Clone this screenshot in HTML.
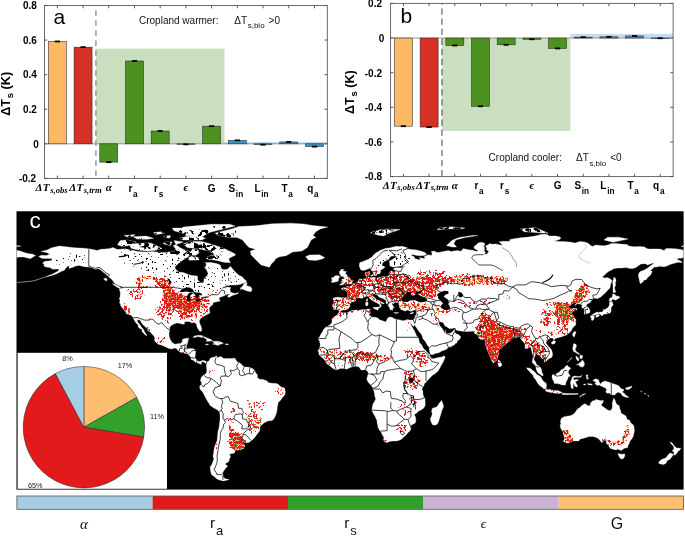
<!DOCTYPE html>
<html><head><meta charset="utf-8"><style>
html,body{margin:0;padding:0;background:#fff;}
svg{display:block;will-change:transform;}
text{font-family:"Liberation Sans",sans-serif;fill:#000;}
.tk{font-size:10px;font-weight:bold;fill:#000;}
.yl{font-size:12.6px;font-weight:bold;fill:#000;}
.ysub{font-size:9.5px;}
.let{font-size:21px;}
.nt{font-size:10px;fill:#111;}
.nts{font-size:8px;}
.xi{font-family:"Liberation Serif",serif;font-style:italic;font-weight:bold;font-size:11px;}
.xis{font-size:8.6px;}
.xl{font-size:10px;font-weight:bold;fill:#000;}
.xls{font-size:8.2px;}
.cl{font-size:22.5px;fill:#fff;}
.pl{font-size:7.3px;fill:#222;}
.cbt{font-size:15.3px;fill:#111;}
.cbs{font-size:13px;}
.cbe{font-family:"Liberation Serif",serif;font-style:italic;font-size:13.5px;fill:#111;}
.cbi{font-family:"Liberation Serif",serif;font-style:italic;font-size:15px;fill:#111;}
</style></head><body>
<svg width="685" height="536" viewBox="0 0 685 536">
<rect x="95.92" y="48.73" width="128.55" height="95.10" fill="#c9dfbf"/>
<rect x="224.46" y="141.92" width="102.84" height="1.90" fill="#c6dbef"/>
<line x1="44.50" x2="327.30" y1="143.82" y2="143.82" stroke="#8a8a8a" stroke-width="0.9"/>
<rect x="48.36" y="41.46" width="18.00" height="102.36" fill="#fdb863" stroke="#1e1e1e" stroke-width="0.6" stroke-opacity="0.85"/>
<rect x="74.07" y="47.17" width="18.00" height="96.65" fill="#d73027" stroke="#1e1e1e" stroke-width="0.6" stroke-opacity="0.85"/>
<rect x="99.77" y="143.82" width="18.00" height="18.33" fill="#4d9221" stroke="#1e1e1e" stroke-width="0.6" stroke-opacity="0.85"/>
<rect x="125.48" y="61.00" width="18.00" height="82.82" fill="#4d9221" stroke="#1e1e1e" stroke-width="0.6" stroke-opacity="0.85"/>
<rect x="151.19" y="131.03" width="18.00" height="12.79" fill="#4d9221" stroke="#1e1e1e" stroke-width="0.6" stroke-opacity="0.85"/>
<rect x="176.90" y="143.82" width="18.00" height="0.60" fill="#4d9221" stroke="#1e1e1e" stroke-width="0.6" stroke-opacity="0.85"/>
<rect x="202.61" y="126.18" width="18.00" height="17.64" fill="#4d9221" stroke="#1e1e1e" stroke-width="0.6" stroke-opacity="0.85"/>
<rect x="228.32" y="140.36" width="18.00" height="3.46" fill="#4393c3" stroke="#1e1e1e" stroke-width="0.6" stroke-opacity="0.85"/>
<rect x="254.03" y="143.82" width="18.00" height="0.86" fill="#4393c3" stroke="#1e1e1e" stroke-width="0.6" stroke-opacity="0.85"/>
<rect x="279.74" y="141.92" width="18.00" height="1.90" fill="#4393c3" stroke="#1e1e1e" stroke-width="0.6" stroke-opacity="0.85"/>
<rect x="305.45" y="143.82" width="18.00" height="2.77" fill="#4393c3" stroke="#1e1e1e" stroke-width="0.6" stroke-opacity="0.85"/>
<line x1="54.75" x2="59.95" y1="41.46" y2="41.46" stroke="#000" stroke-width="1.8"/>
<line x1="80.46" x2="85.66" y1="47.17" y2="47.17" stroke="#000" stroke-width="1.8"/>
<line x1="106.17" x2="111.37" y1="162.15" y2="162.15" stroke="#000" stroke-width="1.8"/>
<line x1="131.88" x2="137.08" y1="61.00" y2="61.00" stroke="#000" stroke-width="1.8"/>
<line x1="157.59" x2="162.79" y1="131.03" y2="131.03" stroke="#000" stroke-width="1.8"/>
<line x1="183.30" x2="188.50" y1="144.34" y2="144.34" stroke="#000" stroke-width="1.8"/>
<line x1="209.01" x2="214.21" y1="126.18" y2="126.18" stroke="#000" stroke-width="1.8"/>
<line x1="234.72" x2="239.92" y1="140.36" y2="140.36" stroke="#000" stroke-width="1.8"/>
<line x1="260.43" x2="265.63" y1="144.68" y2="144.68" stroke="#000" stroke-width="1.8"/>
<line x1="286.14" x2="291.34" y1="141.92" y2="141.92" stroke="#000" stroke-width="1.8"/>
<line x1="311.85" x2="317.05" y1="146.59" y2="146.59" stroke="#000" stroke-width="1.8"/>
<line x1="95.92" x2="95.92" y1="5.50" y2="178.40" stroke="#969696" stroke-width="1.4" stroke-dasharray="5.6,4.4" stroke-dashoffset="5.2"/>
<rect x="44.50" y="5.50" width="282.80" height="172.90" fill="none" stroke="#5a5a5a" stroke-width="0.9"/>
<line x1="57.35" x2="57.35" y1="178.40" y2="175.60" stroke="#4a4a4a" stroke-width="0.9"/>
<line x1="57.35" x2="57.35" y1="5.50" y2="8.30" stroke="#4a4a4a" stroke-width="0.9"/>
<line x1="83.06" x2="83.06" y1="178.40" y2="175.60" stroke="#4a4a4a" stroke-width="0.9"/>
<line x1="83.06" x2="83.06" y1="5.50" y2="8.30" stroke="#4a4a4a" stroke-width="0.9"/>
<line x1="108.77" x2="108.77" y1="178.40" y2="175.60" stroke="#4a4a4a" stroke-width="0.9"/>
<line x1="108.77" x2="108.77" y1="5.50" y2="8.30" stroke="#4a4a4a" stroke-width="0.9"/>
<line x1="134.48" x2="134.48" y1="178.40" y2="175.60" stroke="#4a4a4a" stroke-width="0.9"/>
<line x1="134.48" x2="134.48" y1="5.50" y2="8.30" stroke="#4a4a4a" stroke-width="0.9"/>
<line x1="160.19" x2="160.19" y1="178.40" y2="175.60" stroke="#4a4a4a" stroke-width="0.9"/>
<line x1="160.19" x2="160.19" y1="5.50" y2="8.30" stroke="#4a4a4a" stroke-width="0.9"/>
<line x1="185.90" x2="185.90" y1="178.40" y2="175.60" stroke="#4a4a4a" stroke-width="0.9"/>
<line x1="185.90" x2="185.90" y1="5.50" y2="8.30" stroke="#4a4a4a" stroke-width="0.9"/>
<line x1="211.61" x2="211.61" y1="178.40" y2="175.60" stroke="#4a4a4a" stroke-width="0.9"/>
<line x1="211.61" x2="211.61" y1="5.50" y2="8.30" stroke="#4a4a4a" stroke-width="0.9"/>
<line x1="237.32" x2="237.32" y1="178.40" y2="175.60" stroke="#4a4a4a" stroke-width="0.9"/>
<line x1="237.32" x2="237.32" y1="5.50" y2="8.30" stroke="#4a4a4a" stroke-width="0.9"/>
<line x1="263.03" x2="263.03" y1="178.40" y2="175.60" stroke="#4a4a4a" stroke-width="0.9"/>
<line x1="263.03" x2="263.03" y1="5.50" y2="8.30" stroke="#4a4a4a" stroke-width="0.9"/>
<line x1="288.74" x2="288.74" y1="178.40" y2="175.60" stroke="#4a4a4a" stroke-width="0.9"/>
<line x1="288.74" x2="288.74" y1="5.50" y2="8.30" stroke="#4a4a4a" stroke-width="0.9"/>
<line x1="314.45" x2="314.45" y1="178.40" y2="175.60" stroke="#4a4a4a" stroke-width="0.9"/>
<line x1="314.45" x2="314.45" y1="5.50" y2="8.30" stroke="#4a4a4a" stroke-width="0.9"/>
<line x1="44.50" x2="47.30" y1="5.50" y2="5.50" stroke="#4a4a4a" stroke-width="0.9"/>
<line x1="327.30" x2="324.50" y1="5.50" y2="5.50" stroke="#4a4a4a" stroke-width="0.9"/>
<line x1="44.50" x2="47.30" y1="40.08" y2="40.08" stroke="#4a4a4a" stroke-width="0.9"/>
<line x1="327.30" x2="324.50" y1="40.08" y2="40.08" stroke="#4a4a4a" stroke-width="0.9"/>
<line x1="44.50" x2="47.30" y1="74.66" y2="74.66" stroke="#4a4a4a" stroke-width="0.9"/>
<line x1="327.30" x2="324.50" y1="74.66" y2="74.66" stroke="#4a4a4a" stroke-width="0.9"/>
<line x1="44.50" x2="47.30" y1="109.24" y2="109.24" stroke="#4a4a4a" stroke-width="0.9"/>
<line x1="327.30" x2="324.50" y1="109.24" y2="109.24" stroke="#4a4a4a" stroke-width="0.9"/>
<line x1="44.50" x2="47.30" y1="143.82" y2="143.82" stroke="#4a4a4a" stroke-width="0.9"/>
<line x1="327.30" x2="324.50" y1="143.82" y2="143.82" stroke="#4a4a4a" stroke-width="0.9"/>
<line x1="44.50" x2="47.30" y1="178.40" y2="178.40" stroke="#4a4a4a" stroke-width="0.9"/>
<line x1="327.30" x2="324.50" y1="178.40" y2="178.40" stroke="#4a4a4a" stroke-width="0.9"/>
<text x="36.80" y="9.00" text-anchor="end" class="tk">0.8</text>
<text x="36.80" y="43.60" text-anchor="end" class="tk">0.6</text>
<text x="36.80" y="78.20" text-anchor="end" class="tk">0.4</text>
<text x="36.80" y="113.10" text-anchor="end" class="tk">0.2</text>
<text x="38.90" y="147.60" text-anchor="end" class="tk">0</text>
<text x="36.20" y="182.20" text-anchor="end" class="tk">-0.2</text>
<text transform="translate(10.20,93.80) rotate(-90)" text-anchor="middle" class="yl">&#916;T<tspan class="ysub" dy="3.2" dx="0.8">s</tspan><tspan dy="-3.2" dx="0"> (K)</tspan></text>
<text x="53.4" y="23.8" class="let">a</text>
<text x="35.60" y="190.90" class="xi">&#916;<tspan dx="0.3">T</tspan><tspan class="xis" dy="1.8" dx="0.6">s,obs</tspan></text>
<text x="69.20" y="190.90" class="xi">&#916;<tspan dx="0.3">T</tspan><tspan class="xis" dy="1.8" dx="0.6">s,trm</tspan></text>
<text x="108.77" y="190.90" text-anchor="middle" class="xi">&#945;</text>
<text x="132.98" y="191.80" text-anchor="middle" class="xl">r<tspan class="xls" dy="4.9" dx="0.7">a</tspan></text>
<text x="158.69" y="191.80" text-anchor="middle" class="xl">r<tspan class="xls" dy="4.9" dx="0.7">s</tspan></text>
<text x="185.90" y="190.90" text-anchor="middle" class="xi">&#1013;</text>
<text x="211.61" y="191.80" text-anchor="middle" class="xl">G</text>
<text x="235.82" y="191.80" text-anchor="middle" class="xl">S<tspan class="xls" dy="4.9" dx="0.7">in</tspan></text>
<text x="261.53" y="191.80" text-anchor="middle" class="xl">L<tspan class="xls" dy="4.9" dx="0.7">in</tspan></text>
<text x="287.24" y="191.80" text-anchor="middle" class="xl">T<tspan class="xls" dy="4.9" dx="0.7">a</tspan></text>
<text x="312.95" y="191.80" text-anchor="middle" class="xl">q<tspan class="xls" dy="4.9" dx="0.7">a</tspan></text>
<text x="139" y="24" class="nt">Cropland warmer:</text><text x="234.3" y="24" class="nt">&#916;T<tspan class="nts" dy="4.3" dx="0.6">s,bio</tspan><tspan dy="-4.3" dx="1.2"> &gt;0</tspan></text>
<rect x="441.96" y="38.04" width="128.41" height="92.84" fill="#c9dfbf"/>
<rect x="570.37" y="33.88" width="102.73" height="4.16" fill="#c6dbef"/>
<line x1="390.60" x2="673.10" y1="38.04" y2="38.04" stroke="#8a8a8a" stroke-width="0.9"/>
<rect x="394.45" y="38.04" width="17.98" height="88.16" fill="#fdb863" stroke="#1e1e1e" stroke-width="0.6" stroke-opacity="0.85"/>
<rect x="420.13" y="38.04" width="17.98" height="89.02" fill="#d73027" stroke="#1e1e1e" stroke-width="0.6" stroke-opacity="0.85"/>
<rect x="445.82" y="38.04" width="17.98" height="7.45" fill="#4d9221" stroke="#1e1e1e" stroke-width="0.6" stroke-opacity="0.85"/>
<rect x="471.50" y="38.04" width="17.98" height="68.24" fill="#4d9221" stroke="#1e1e1e" stroke-width="0.6" stroke-opacity="0.85"/>
<rect x="497.18" y="38.04" width="17.98" height="6.75" fill="#4d9221" stroke="#1e1e1e" stroke-width="0.6" stroke-opacity="0.85"/>
<rect x="522.86" y="38.04" width="17.98" height="1.21" fill="#4d9221" stroke="#1e1e1e" stroke-width="0.6" stroke-opacity="0.85"/>
<rect x="548.54" y="38.04" width="17.98" height="10.39" fill="#4d9221" stroke="#1e1e1e" stroke-width="0.6" stroke-opacity="0.85"/>
<rect x="574.23" y="37.17" width="17.98" height="0.87" fill="#4393c3" stroke="#1e1e1e" stroke-width="0.6" stroke-opacity="0.85"/>
<rect x="599.91" y="36.83" width="17.98" height="1.21" fill="#4393c3" stroke="#1e1e1e" stroke-width="0.6" stroke-opacity="0.85"/>
<rect x="625.59" y="35.96" width="17.98" height="2.08" fill="#4393c3" stroke="#1e1e1e" stroke-width="0.6" stroke-opacity="0.85"/>
<rect x="651.27" y="38.04" width="17.98" height="0.60" fill="#4393c3" stroke="#1e1e1e" stroke-width="0.6" stroke-opacity="0.85"/>
<line x1="400.84" x2="406.04" y1="126.20" y2="126.20" stroke="#000" stroke-width="1.8"/>
<line x1="426.52" x2="431.72" y1="127.06" y2="127.06" stroke="#000" stroke-width="1.8"/>
<line x1="452.20" x2="457.40" y1="45.49" y2="45.49" stroke="#000" stroke-width="1.8"/>
<line x1="477.89" x2="483.09" y1="106.28" y2="106.28" stroke="#000" stroke-width="1.8"/>
<line x1="503.57" x2="508.77" y1="44.79" y2="44.79" stroke="#000" stroke-width="1.8"/>
<line x1="529.25" x2="534.45" y1="39.25" y2="39.25" stroke="#000" stroke-width="1.8"/>
<line x1="554.93" x2="560.13" y1="48.43" y2="48.43" stroke="#000" stroke-width="1.8"/>
<line x1="580.61" x2="585.81" y1="37.17" y2="37.17" stroke="#000" stroke-width="1.8"/>
<line x1="606.30" x2="611.50" y1="36.83" y2="36.83" stroke="#000" stroke-width="1.8"/>
<line x1="631.98" x2="637.18" y1="35.96" y2="35.96" stroke="#000" stroke-width="1.8"/>
<line x1="657.66" x2="662.86" y1="38.21" y2="38.21" stroke="#000" stroke-width="1.8"/>
<line x1="441.96" x2="441.96" y1="3.40" y2="176.60" stroke="#444" stroke-width="1.0" stroke-dasharray="6.3,3.8" stroke-dashoffset="5.1"/>
<rect x="390.60" y="3.40" width="282.50" height="173.20" fill="none" stroke="#5a5a5a" stroke-width="0.9"/>
<line x1="403.44" x2="403.44" y1="176.60" y2="173.80" stroke="#4a4a4a" stroke-width="0.9"/>
<line x1="403.44" x2="403.44" y1="3.40" y2="6.20" stroke="#4a4a4a" stroke-width="0.9"/>
<line x1="429.12" x2="429.12" y1="176.60" y2="173.80" stroke="#4a4a4a" stroke-width="0.9"/>
<line x1="429.12" x2="429.12" y1="3.40" y2="6.20" stroke="#4a4a4a" stroke-width="0.9"/>
<line x1="454.80" x2="454.80" y1="176.60" y2="173.80" stroke="#4a4a4a" stroke-width="0.9"/>
<line x1="454.80" x2="454.80" y1="3.40" y2="6.20" stroke="#4a4a4a" stroke-width="0.9"/>
<line x1="480.49" x2="480.49" y1="176.60" y2="173.80" stroke="#4a4a4a" stroke-width="0.9"/>
<line x1="480.49" x2="480.49" y1="3.40" y2="6.20" stroke="#4a4a4a" stroke-width="0.9"/>
<line x1="506.17" x2="506.17" y1="176.60" y2="173.80" stroke="#4a4a4a" stroke-width="0.9"/>
<line x1="506.17" x2="506.17" y1="3.40" y2="6.20" stroke="#4a4a4a" stroke-width="0.9"/>
<line x1="531.85" x2="531.85" y1="176.60" y2="173.80" stroke="#4a4a4a" stroke-width="0.9"/>
<line x1="531.85" x2="531.85" y1="3.40" y2="6.20" stroke="#4a4a4a" stroke-width="0.9"/>
<line x1="557.53" x2="557.53" y1="176.60" y2="173.80" stroke="#4a4a4a" stroke-width="0.9"/>
<line x1="557.53" x2="557.53" y1="3.40" y2="6.20" stroke="#4a4a4a" stroke-width="0.9"/>
<line x1="583.21" x2="583.21" y1="176.60" y2="173.80" stroke="#4a4a4a" stroke-width="0.9"/>
<line x1="583.21" x2="583.21" y1="3.40" y2="6.20" stroke="#4a4a4a" stroke-width="0.9"/>
<line x1="608.90" x2="608.90" y1="176.60" y2="173.80" stroke="#4a4a4a" stroke-width="0.9"/>
<line x1="608.90" x2="608.90" y1="3.40" y2="6.20" stroke="#4a4a4a" stroke-width="0.9"/>
<line x1="634.58" x2="634.58" y1="176.60" y2="173.80" stroke="#4a4a4a" stroke-width="0.9"/>
<line x1="634.58" x2="634.58" y1="3.40" y2="6.20" stroke="#4a4a4a" stroke-width="0.9"/>
<line x1="660.26" x2="660.26" y1="176.60" y2="173.80" stroke="#4a4a4a" stroke-width="0.9"/>
<line x1="660.26" x2="660.26" y1="3.40" y2="6.20" stroke="#4a4a4a" stroke-width="0.9"/>
<line x1="390.60" x2="393.40" y1="3.40" y2="3.40" stroke="#4a4a4a" stroke-width="0.9"/>
<line x1="673.10" x2="670.30" y1="3.40" y2="3.40" stroke="#4a4a4a" stroke-width="0.9"/>
<line x1="390.60" x2="393.40" y1="38.04" y2="38.04" stroke="#4a4a4a" stroke-width="0.9"/>
<line x1="673.10" x2="670.30" y1="38.04" y2="38.04" stroke="#4a4a4a" stroke-width="0.9"/>
<line x1="390.60" x2="393.40" y1="72.68" y2="72.68" stroke="#4a4a4a" stroke-width="0.9"/>
<line x1="673.10" x2="670.30" y1="72.68" y2="72.68" stroke="#4a4a4a" stroke-width="0.9"/>
<line x1="390.60" x2="393.40" y1="107.32" y2="107.32" stroke="#4a4a4a" stroke-width="0.9"/>
<line x1="673.10" x2="670.30" y1="107.32" y2="107.32" stroke="#4a4a4a" stroke-width="0.9"/>
<line x1="390.60" x2="393.40" y1="141.96" y2="141.96" stroke="#4a4a4a" stroke-width="0.9"/>
<line x1="673.10" x2="670.30" y1="141.96" y2="141.96" stroke="#4a4a4a" stroke-width="0.9"/>
<line x1="390.60" x2="393.40" y1="176.60" y2="176.60" stroke="#4a4a4a" stroke-width="0.9"/>
<line x1="673.10" x2="670.30" y1="176.60" y2="176.60" stroke="#4a4a4a" stroke-width="0.9"/>
<text x="382.00" y="7.20" text-anchor="end" class="tk">0.2</text>
<text x="384.20" y="41.80" text-anchor="end" class="tk">0</text>
<text x="382.00" y="76.50" text-anchor="end" class="tk">-0.2</text>
<text x="382.00" y="111.10" text-anchor="end" class="tk">-0.4</text>
<text x="382.00" y="145.80" text-anchor="end" class="tk">-0.6</text>
<text x="382.00" y="180.40" text-anchor="end" class="tk">-0.8</text>
<text transform="translate(353.90,92.20) rotate(-90)" text-anchor="middle" class="yl">&#916;T<tspan class="ysub" dy="3.2" dx="0.8">s</tspan><tspan dy="-3.2" dx="0"> (K)</tspan></text>
<text x="400.6" y="23.2" class="let">b</text>
<text x="382.80" y="188.50" class="xi">&#916;<tspan dx="0.3">T</tspan><tspan class="xis" dy="1.8" dx="0.6">s,obs</tspan></text>
<text x="416.10" y="188.50" class="xi">&#916;<tspan dx="0.3">T</tspan><tspan class="xis" dy="1.8" dx="0.6">s,trm</tspan></text>
<text x="454.80" y="188.50" text-anchor="middle" class="xi">&#945;</text>
<text x="478.99" y="189.40" text-anchor="middle" class="xl">r<tspan class="xls" dy="4.9" dx="0.7">a</tspan></text>
<text x="504.67" y="189.40" text-anchor="middle" class="xl">r<tspan class="xls" dy="4.9" dx="0.7">s</tspan></text>
<text x="531.85" y="188.50" text-anchor="middle" class="xi">&#1013;</text>
<text x="557.53" y="189.40" text-anchor="middle" class="xl">G</text>
<text x="581.71" y="189.40" text-anchor="middle" class="xl">S<tspan class="xls" dy="4.9" dx="0.7">in</tspan></text>
<text x="607.40" y="189.40" text-anchor="middle" class="xl">L<tspan class="xls" dy="4.9" dx="0.7">in</tspan></text>
<text x="633.08" y="189.40" text-anchor="middle" class="xl">T<tspan class="xls" dy="4.9" dx="0.7">a</tspan></text>
<text x="658.76" y="189.40" text-anchor="middle" class="xl">q<tspan class="xls" dy="4.9" dx="0.7">a</tspan></text>
<text x="488.6" y="161.3" class="nt">Cropland cooler:</text><text x="576.0" y="161.3" class="nt">&#916;T<tspan class="nts" dy="4.3" dx="0.6">s,bio</tspan><tspan dy="-4.3" dx="1.2"> &lt;0</tspan></text>
<rect x="16.5" y="211.3" width="667.10" height="278.30" fill="#000"/>
<clipPath id="mc"><rect x="16.50" y="211.30" width="667.10" height="278.30"/></clipPath>
<filter id="spk" x="0" y="0" width="685" height="536" filterUnits="userSpaceOnUse" color-interpolation-filters="sRGB"><feTurbulence type="fractalNoise" baseFrequency="0.45" numOctaves="3" seed="4" result="t"/><feColorMatrix in="t" type="matrix" values="0 0 0 0 0  0 0 0 0 0  0 0 0 0 0  1 0 0 0 0" result="na"/><feGaussianBlur in="SourceAlpha" stdDeviation="1.6" result="sb"/><feComposite in="sb" in2="na" operator="arithmetic" k1="0" k2="9.360" k3="12.000" k4="-12.480" result="m"/><feFlood flood-color="#e31a1c"/><feComposite in2="m" operator="in"/><feGaussianBlur stdDeviation="0.45"/></filter>
<filter id="spo" x="0" y="0" width="685" height="536" filterUnits="userSpaceOnUse" color-interpolation-filters="sRGB"><feTurbulence type="fractalNoise" baseFrequency="0.5" numOctaves="3" seed="11" result="t"/><feColorMatrix in="t" type="matrix" values="0 0 0 0 0  0 0 0 0 0  0 0 0 0 0  1 0 0 0 0" result="na"/><feGaussianBlur in="SourceAlpha" stdDeviation="1.6" result="sb"/><feComposite in="sb" in2="na" operator="arithmetic" k1="0" k2="9.360" k3="12.000" k4="-12.480" result="m"/><feFlood flood-color="#f2b35c"/><feComposite in2="m" operator="in"/><feGaussianBlur stdDeviation="0.45"/></filter>
<filter id="spl" x="0" y="0" width="685" height="536" filterUnits="userSpaceOnUse" color-interpolation-filters="sRGB"><feTurbulence type="fractalNoise" baseFrequency="0.5" numOctaves="3" seed="31" result="t"/><feColorMatrix in="t" type="matrix" values="0 0 0 0 0  0 0 0 0 0  0 0 0 0 0  1 0 0 0 0" result="na"/><feGaussianBlur in="SourceAlpha" stdDeviation="1.6" result="sb"/><feComposite in="sb" in2="na" operator="arithmetic" k1="0" k2="9.360" k3="12.000" k4="-12.480" result="m"/><feFlood flood-color="#000"/><feComposite in2="m" operator="in"/><feGaussianBlur stdDeviation="0.45"/></filter>
<filter id="spa" x="0" y="0" width="685" height="536" filterUnits="userSpaceOnUse" color-interpolation-filters="sRGB"><feTurbulence type="fractalNoise" baseFrequency="0.18" numOctaves="3" seed="37" result="t"/><feColorMatrix in="t" type="matrix" values="0 0 0 0 0  0 0 0 0 0  0 0 0 0 0  1 0 0 0 0" result="na"/><feGaussianBlur in="SourceAlpha" stdDeviation="1.6" result="sb"/><feComposite in="sb" in2="na" operator="arithmetic" k1="0" k2="9.360" k3="12.000" k4="-12.480" result="m"/><feFlood flood-color="#000"/><feComposite in2="m" operator="in"/><feGaussianBlur stdDeviation="0.45"/></filter>
<filter id="spg" x="0" y="0" width="685" height="536" filterUnits="userSpaceOnUse" color-interpolation-filters="sRGB"><feTurbulence type="fractalNoise" baseFrequency="0.5" numOctaves="3" seed="23" result="t"/><feColorMatrix in="t" type="matrix" values="0 0 0 0 0  0 0 0 0 0  0 0 0 0 0  1 0 0 0 0" result="na"/><feGaussianBlur in="SourceAlpha" stdDeviation="1.6" result="sb"/><feComposite in="sb" in2="na" operator="arithmetic" k1="0" k2="9.360" k3="12.000" k4="-12.480" result="m"/><feFlood flood-color="#4f9a2e"/><feComposite in2="m" operator="in"/><feGaussianBlur stdDeviation="0.45"/></filter>
<g clip-path="url(#mc)">
<g fill="#fff" stroke="#fff" stroke-width="0.3">
<polygon points="38.6,256.5 41.5,255.2 46.5,255.6 49.9,254.1 46.5,252.6 41.0,251.5 47.1,250.0 51.7,247.8 59.5,246.0 67.8,246.9 74.9,247.8 84.1,248.2 90.6,249.1 97.1,250.4 100.8,249.3 105.4,248.9 110.1,248.4 112.9,247.4 117.5,249.5 124.9,248.7 132.3,250.2 137.9,251.5 146.2,252.1 152.7,251.5 161.0,252.4 167.5,252.4 170.3,251.1 173.1,252.1 175.9,249.3 173.1,245.6 176.2,244.7 180.5,248.0 187.0,250.6 190.7,252.1 192.5,249.1 198.1,249.8 199.0,253.0 195.3,255.4 189.8,254.8 187.9,257.1 182.3,260.4 177.7,264.1 174.9,266.9 175.5,269.1 178.6,272.1 183.3,272.5 188.8,274.7 192.5,275.6 197.5,276.0 197.7,279.9 200.9,283.0 203.7,282.6 204.0,278.9 207.4,275.2 208.1,273.4 206.4,269.7 204.6,267.3 206.4,265.0 205.5,262.4 211.1,262.6 216.6,263.6 220.3,265.0 221.3,268.4 224.0,269.7 227.7,269.1 230.5,266.3 233.3,269.7 236.1,272.8 238.9,275.2 242.6,277.1 243.9,278.9 246.8,281.3 244.4,282.8 239.8,284.5 235.2,285.1 230.5,285.1 226.8,285.8 223.1,287.3 220.7,288.8 224.0,288.0 227.7,287.1 230.9,287.6 230.0,289.5 230.5,292.3 235.2,293.4 238.5,292.5 237.9,293.8 232.4,295.4 228.7,297.5 227.4,296.0 230.5,294.1 227.7,294.3 225.9,295.1 223.1,296.2 220.0,297.3 218.9,299.1 220.3,300.6 219.4,301.2 216.6,301.7 212.9,302.8 212.9,304.5 211.1,306.0 210.1,306.7 209.2,308.6 209.4,310.4 210.1,312.7 208.3,314.0 205.9,315.1 203.7,316.4 200.9,318.2 199.4,320.3 199.4,322.5 200.7,325.6 201.8,328.6 201.2,331.2 200.0,331.4 198.7,329.9 197.7,328.2 196.8,326.2 196.6,324.3 194.9,322.7 193.5,322.5 191.8,323.0 189.8,321.7 187.0,321.4 184.2,322.1 184.6,324.0 182.9,324.2 180.5,323.4 176.8,323.0 174.4,323.8 171.2,325.6 169.7,327.5 169.7,330.1 169.0,333.2 169.2,336.4 169.9,338.8 171.6,341.9 173.6,343.4 175.1,344.3 178.6,343.6 180.9,343.6 182.3,341.4 182.5,339.2 186.1,338.2 188.8,338.2 188.1,340.6 187.4,344.0 186.4,345.6 186.4,348.4 187.9,348.8 190.7,348.6 193.5,348.8 195.7,350.3 195.3,354.9 194.9,357.7 196.2,359.5 198.5,361.4 200.9,361.2 202.7,360.3 205.5,361.0 206.8,362.1 206.4,364.2 204.6,362.5 202.5,361.6 201.1,362.9 201.6,364.4 199.6,363.8 198.1,362.9 195.3,362.3 193.5,360.3 191.2,359.7 191.1,357.7 189.2,355.3 187.5,354.0 186.1,353.6 183.6,353.1 180.7,352.3 178.6,351.0 176.2,348.6 174.6,348.1 171.8,349.0 168.8,348.4 165.7,346.9 162.0,345.3 158.3,344.2 155.7,342.3 154.4,340.3 154.9,338.2 154.0,336.2 152.0,334.0 149.9,331.7 147.7,330.5 147.1,328.6 145.1,326.6 142.9,324.7 141.0,322.1 140.3,320.3 137.3,319.5 137.5,322.1 139.7,324.3 141.2,326.7 143.2,329.0 144.7,332.1 146.2,334.3 147.1,335.3 145.8,335.6 143.4,333.0 142.1,331.7 142.0,329.3 139.7,328.4 137.9,326.6 138.4,325.1 136.0,323.0 134.0,319.7 133.1,317.9 132.5,316.6 130.5,315.1 128.4,314.3 126.6,314.0 125.8,312.1 124.2,310.3 123.1,308.6 122.1,307.7 120.8,306.0 120.5,304.0 119.5,303.0 120.1,300.6 119.3,298.8 120.1,296.5 120.3,292.5 119.9,291.0 119.0,288.4 122.1,288.8 122.7,287.3 121.2,286.3 118.8,285.4 114.7,283.6 113.2,281.3 111.9,279.5 109.2,277.5 108.2,276.2 105.8,274.3 103.6,272.5 100.8,270.0 98.4,268.4 95.3,269.3 91.0,267.4 87.8,266.9 84.1,266.7 79.5,265.4 75.8,266.0 73.0,267.3 68.9,268.4 69.3,265.6 72.1,264.7 67.5,266.3 65.6,268.4 64.3,270.2 61.0,271.5 57.3,273.4 52.6,275.2 48.9,276.3 45.2,277.1 48.0,275.8 51.7,274.5 55.4,272.6 58.2,271.0 59.1,269.1 56.3,269.1 52.6,269.3 49.9,267.6 45.8,267.1 43.7,265.8 44.3,264.1 42.4,263.2 44.7,261.3 48.0,261.1 51.7,260.4 52.1,258.6 48.0,258.4 44.3,258.6 41.5,258.2"/>
<polygon points="409.9,320.1 413.4,320.1 414.7,317.9 415.1,316.6 415.8,315.1 416.6,313.2 416.4,311.4 417.1,310.3 415.8,310.3 414.2,309.9 412.1,311.0 410.3,311.2 407.5,309.9 406.6,310.6 404.7,311.0 402.5,309.9 400.8,309.5 400.5,308.0 399.0,307.1 399.7,306.0 399.3,304.9 398.6,304.0 399.3,303.2 398.6,302.8 398.2,302.5 396.4,302.2 394.5,302.5 394.0,303.6 392.7,303.2 391.9,303.2 392.5,305.2 393.6,306.7 394.5,307.5 392.7,307.8 393.0,309.0 392.3,310.4 391.6,309.7 391.0,310.1 390.3,309.9 389.9,308.4 389.1,307.1 388.4,305.8 387.5,304.7 386.0,303.2 386.0,302.1 386.2,300.6 384.7,299.7 383.0,298.6 380.6,297.7 379.5,297.3 378.2,296.2 377.1,294.5 375.8,295.1 375.4,293.4 373.0,293.8 372.8,295.1 372.8,296.2 374.1,297.1 375.8,298.8 377.1,300.1 379.3,300.4 380.1,300.8 381.6,301.9 383.4,302.8 384.3,303.8 383.4,304.1 381.9,303.2 380.8,304.0 380.8,304.7 381.7,305.8 380.8,306.7 379.9,307.7 379.1,307.8 379.0,307.3 379.5,306.5 380.1,305.8 379.1,304.1 377.8,303.6 376.9,302.8 376.0,302.5 374.1,301.5 372.7,300.6 370.8,299.5 369.5,298.4 369.0,296.7 367.1,296.0 365.4,296.7 363.9,296.9 362.5,298.2 360.8,298.2 358.9,297.7 357.5,297.5 355.8,298.2 355.8,299.5 356.0,300.4 354.1,301.5 351.7,302.1 350.4,303.6 349.5,304.9 350.4,306.2 349.1,307.1 348.6,308.4 346.9,309.5 346.0,310.1 342.6,310.1 341.3,310.4 340.2,311.2 339.7,311.4 338.6,310.6 338.0,309.7 336.3,309.1 335.2,309.5 333.6,309.5 333.7,307.7 332.4,306.4 332.6,305.1 333.6,303.6 333.9,301.7 333.6,300.2 332.8,298.6 334.9,297.5 337.1,297.3 339.3,297.3 341.7,297.7 344.5,297.7 346.7,297.7 347.5,296.5 347.8,294.7 347.8,292.5 346.0,291.0 344.9,290.1 341.9,289.5 341.3,288.4 343.6,287.6 346.3,288.0 347.1,287.8 346.5,286.0 347.6,286.2 349.7,286.7 350.6,286.0 352.8,285.1 353.0,283.8 354.7,283.4 356.5,282.8 357.5,281.9 358.4,281.0 358.8,280.0 359.3,279.3 361.2,279.1 363.0,278.9 364.9,278.8 366.2,278.2 366.4,277.1 366.0,276.2 365.1,275.0 365.1,273.4 365.4,272.5 367.7,272.3 369.5,271.3 369.7,272.5 369.1,273.7 370.2,273.6 369.7,274.5 368.6,275.2 368.0,276.2 368.6,276.9 370.2,277.3 371.4,277.8 373.2,277.3 375.4,277.6 376.5,278.2 378.8,277.6 381.2,276.9 384.3,276.5 385.8,277.3 386.9,276.3 389.1,275.8 389.1,274.3 389.0,272.8 390.3,271.3 391.9,271.0 393.2,272.3 395.1,272.1 395.1,270.0 393.6,269.5 393.6,268.4 396.0,267.8 399.2,267.8 401.9,267.8 404.7,267.1 406.2,267.0 403.8,266.5 401.6,266.0 399.2,266.2 394.5,266.9 392.5,267.1 389.7,265.8 389.9,264.1 389.5,262.3 389.3,261.0 391.6,259.9 393.6,258.6 395.4,257.8 397.1,257.3 396.7,256.5 395.1,256.1 392.7,256.1 390.8,256.7 389.5,257.8 389.3,258.9 387.5,259.9 385.3,261.0 383.4,262.1 382.3,263.6 381.9,265.0 382.1,265.8 384.1,266.3 385.1,267.3 383.8,268.0 383.0,268.9 381.2,269.5 380.6,270.8 380.6,272.5 379.5,273.9 377.3,273.9 376.4,275.4 374.0,275.4 373.8,274.5 373.2,273.7 373.4,272.6 372.1,271.7 371.5,270.2 370.8,268.9 369.7,268.2 369.3,267.1 369.0,268.7 367.7,268.9 365.6,270.0 363.0,270.6 361.2,270.0 360.2,269.1 360.2,268.2 359.3,266.5 359.3,265.0 359.5,263.6 359.9,262.6 361.5,262.1 363.0,261.5 364.9,260.8 366.4,260.0 368.2,259.5 369.5,258.4 371.4,257.6 372.7,256.1 373.8,254.8 375.3,253.4 376.9,252.3 378.8,251.5 379.7,250.6 381.9,249.8 383.8,248.9 386.2,248.2 389.0,248.0 391.7,247.4 394.0,246.7 396.4,246.3 399.2,246.5 401.9,246.3 404.7,246.9 407.5,247.8 405.6,248.7 408.4,248.9 411.2,249.5 414.9,249.8 418.6,250.4 421.4,251.3 424.2,252.3 426.0,253.2 426.4,254.5 424.2,255.4 421.4,255.8 416.8,255.4 414.0,254.8 412.1,254.5 410.8,254.8 412.7,256.0 414.5,257.1 414.5,258.6 417.7,259.3 419.5,259.9 420.5,258.7 419.0,257.6 421.4,258.0 424.2,258.6 425.1,257.8 424.0,256.7 426.0,255.8 428.2,254.8 431.6,255.4 432.0,253.5 431.2,251.5 434.4,251.1 436.2,252.3 439.0,252.6 440.8,252.1 444.6,251.3 448.3,250.6 451.0,251.5 453.8,251.0 457.5,250.4 460.3,251.3 462.2,250.2 462.7,248.7 464.9,248.9 468.6,249.7 472.4,250.2 475.1,251.1 477.0,251.5 477.9,250.4 475.5,249.3 474.2,248.2 474.0,246.5 476.1,245.0 477.5,243.5 478.8,242.8 481.6,242.2 484.6,243.2 485.0,244.7 483.5,246.1 484.6,247.2 484.4,249.3 484.2,251.1 485.7,252.8 483.8,254.3 486.2,254.3 488.1,252.8 488.7,251.0 486.4,249.8 486.8,248.0 485.5,246.1 488.1,244.7 489.6,243.5 491.8,244.3 495.5,243.9 499.2,244.7 502.9,245.4 499.2,241.7 502.9,241.3 510.3,241.3 509.4,239.8 514.0,238.7 520.5,237.8 527.9,237.1 533.5,236.3 537.2,235.4 541.8,234.3 545.5,234.3 547.4,234.8 549.3,236.1 555.7,235.9 560.4,237.1 560.4,239.1 556.7,240.4 553.9,240.9 558.5,241.5 563.2,241.5 569.6,241.9 575.2,243.0 579.8,241.5 584.5,241.9 588.2,243.2 590.0,245.0 592.4,246.5 595.6,245.0 600.2,245.4 604.8,245.8 608.6,244.7 611.3,243.4 616.0,243.4 620.6,244.1 627.1,244.5 628.9,246.0 633.6,246.7 640.1,246.5 644.7,246.9 646.5,248.4 649.3,249.1 654.0,248.9 660.4,249.1 664.1,250.6 666.0,248.4 669.7,248.5 675.3,248.7 680.8,249.5 683.6,250.2 683.6,257.6 680.8,258.2 678.0,258.2 677.1,259.5 680.8,261.0 682.3,262.6 678.0,262.3 673.4,263.6 670.6,264.3 666.9,266.0 664.1,266.7 659.5,266.3 656.7,267.1 654.0,267.1 652.7,268.7 650.2,270.4 652.1,271.3 651.2,273.9 649.9,275.8 647.5,277.5 646.5,279.5 643.8,280.2 643.2,281.7 640.4,283.8 639.7,282.1 639.1,278.9 638.4,275.8 638.9,273.0 640.8,271.2 643.2,270.6 646.2,268.9 649.3,266.7 653.0,264.1 654.0,262.4 651.2,263.7 647.5,265.0 645.6,263.7 641.0,263.9 638.2,265.8 636.0,267.6 632.6,268.6 629.9,268.6 626.2,267.6 621.5,268.0 617.8,268.0 614.1,268.6 611.0,270.2 608.6,271.5 606.3,273.2 603.9,275.8 602.1,276.9 604.8,278.0 607.6,277.6 610.8,279.3 612.1,280.8 611.3,282.6 610.4,285.2 610.0,288.0 607.6,290.2 605.8,292.5 603.2,294.7 600.8,296.9 597.1,298.8 594.8,298.0 593.2,298.9 592.1,299.5 590.6,301.7 590.2,302.5 588.7,303.2 586.9,304.3 586.1,305.2 587.8,306.5 588.9,308.2 589.8,309.9 590.0,311.9 589.5,312.8 588.2,313.2 586.5,313.8 584.5,314.3 584.1,312.8 584.6,311.0 583.9,309.7 584.8,308.4 583.5,308.0 582.1,308.2 581.7,306.7 582.4,305.1 581.1,304.5 579.8,304.1 577.6,303.6 575.6,305.1 574.8,305.8 575.6,304.1 576.5,303.2 575.8,302.3 574.3,302.3 573.2,303.2 571.5,304.1 570.4,305.6 568.9,305.4 568.2,306.2 568.3,307.3 569.6,307.7 570.6,309.1 572.4,308.8 573.9,308.0 575.2,308.6 577.0,308.8 577.0,309.7 575.2,310.1 573.7,311.0 572.4,312.1 570.9,313.4 572.8,314.5 573.7,316.6 574.3,318.0 575.9,319.3 575.8,320.8 575.0,321.4 576.1,322.5 575.6,323.8 575.9,324.9 574.6,325.8 573.5,327.1 572.2,328.6 571.7,330.1 570.6,331.4 569.6,332.5 568.3,333.6 566.5,334.9 564.1,335.8 561.7,336.8 560.4,336.9 558.9,337.5 557.0,338.0 555.0,338.6 554.4,339.9 553.9,340.5 553.3,339.2 553.5,338.2 551.3,337.9 549.3,338.4 547.8,339.7 546.5,341.4 545.9,343.1 547.2,344.7 548.3,346.2 549.8,347.9 551.5,349.7 552.2,352.1 552.6,354.7 552.0,357.0 550.6,357.9 548.7,358.8 547.6,359.9 545.4,362.0 544.3,362.1 544.3,360.3 544.6,359.2 543.5,358.6 541.8,358.4 540.5,356.4 539.6,355.3 538.1,354.5 537.0,354.7 537.0,353.4 535.5,353.2 535.4,354.9 534.1,358.1 533.9,359.9 535.0,361.0 535.9,362.7 536.7,365.1 537.8,365.3 539.4,366.6 540.7,367.9 541.7,369.7 541.7,372.0 542.6,373.4 543.3,375.5 541.8,375.7 540.5,374.6 537.8,372.7 536.7,370.8 536.1,368.8 535.9,367.0 535.4,365.8 534.2,364.5 533.1,363.3 532.2,362.7 532.4,361.0 532.8,358.6 533.1,356.8 532.8,354.9 532.2,353.1 531.6,350.6 531.1,348.4 530.4,346.8 528.9,347.3 526.8,348.8 525.3,348.4 524.8,346.9 525.3,345.1 524.6,343.2 523.3,341.9 522.2,340.5 521.1,339.5 520.5,338.0 520.2,336.8 518.7,336.0 517.8,337.1 516.1,337.5 514.6,338.0 513.5,337.9 511.3,338.2 510.9,339.9 509.4,341.4 507.6,342.3 505.7,344.2 503.9,345.5 502.6,347.1 501.1,348.4 499.8,349.0 498.7,350.3 498.9,353.1 498.1,355.8 497.9,358.6 496.8,359.2 496.3,361.0 495.0,361.6 493.7,363.1 492.0,361.6 491.3,359.5 490.3,357.0 489.4,355.3 488.5,353.1 487.7,350.8 486.8,348.8 485.9,346.0 485.1,343.4 485.0,341.2 484.8,339.2 484.6,337.7 484.0,339.0 482.0,339.5 480.3,339.2 478.3,337.3 478.8,336.4 480.5,335.6 478.5,335.8 477.0,334.7 475.1,333.8 473.8,332.1 473.3,331.0 469.6,331.4 465.9,331.6 464.0,331.4 460.5,331.0 457.5,330.6 456.2,330.1 455.3,328.0 454.2,327.9 452.0,328.6 450.1,328.8 448.3,328.0 446.4,326.6 445.1,326.2 444.2,324.5 443.1,322.5 441.8,322.3 440.5,321.7 439.0,322.5 438.8,323.8 439.9,325.6 440.8,326.9 442.1,328.2 442.9,329.5 443.6,331.0 444.2,332.1 445.1,333.0 445.7,331.7 445.5,330.1 444.9,329.7 446.4,333.4 449.2,333.4 451.0,333.0 452.9,331.2 454.0,329.9 454.6,329.2 454.6,330.8 454.6,331.9 456.0,333.8 457.9,334.3 459.0,334.9 460.1,336.2 460.9,336.6 460.1,338.4 459.0,340.1 458.1,340.3 457.2,341.4 457.0,342.9 455.3,343.4 454.4,344.9 452.5,345.5 452.0,346.6 450.1,346.8 448.4,347.3 446.8,349.0 444.9,349.9 441.8,351.0 440.3,352.1 438.1,353.1 436.2,353.2 434.5,353.8 433.4,354.4 432.0,354.7 430.7,354.5 430.1,353.4 429.7,351.9 429.2,349.4 429.4,347.7 428.6,346.6 427.3,344.9 426.4,343.2 425.3,341.4 423.6,339.5 422.5,337.9 422.3,336.2 421.4,334.3 420.3,333.0 419.2,331.7 418.2,330.3 417.1,328.8 416.0,327.1 415.1,326.0 414.5,325.1 414.7,323.4 413.6,326.6 412.3,325.6 411.2,324.0 410.5,322.7"/>
<polygon points="409.9,320.1 407.5,319.5 405.6,320.1 403.8,320.8 401.9,320.4 400.1,319.9 396.7,319.5 394.5,318.8 392.9,317.7 390.8,317.1 389.0,317.3 387.3,318.4 386.7,320.3 385.3,321.9 383.4,321.0 381.6,320.4 379.1,319.5 378.2,318.2 375.6,317.3 373.2,317.3 371.4,316.7 370.4,315.8 369.3,315.6 368.8,314.5 370.2,313.2 370.4,311.9 369.5,310.6 370.4,309.5 369.0,309.1 367.7,309.0 365.8,309.7 363.4,309.5 361.5,309.7 359.3,310.1 356.5,309.9 353.8,310.3 351.9,310.6 350.1,311.6 348.2,312.1 346.3,313.0 344.5,312.7 341.9,312.8 340.2,311.6 339.1,311.7 338.6,312.7 337.4,314.7 336.0,315.8 334.3,316.6 332.8,317.9 331.9,319.7 332.1,321.6 331.5,323.2 329.7,324.9 327.8,326.0 326.0,326.7 324.5,328.6 323.2,329.9 322.6,331.7 321.3,333.6 320.4,334.9 319.8,336.4 318.7,337.7 318.4,339.3 319.5,341.0 319.8,342.5 320.2,344.3 320.0,346.6 319.5,348.1 318.9,349.4 317.8,350.6 318.7,351.8 318.9,353.4 318.9,355.1 320.2,356.0 321.5,356.8 322.6,358.1 324.1,359.5 325.4,360.8 326.0,362.5 327.1,364.0 328.7,365.1 330.6,366.4 332.4,367.9 334.3,369.2 336.2,369.9 338.0,369.6 339.9,368.6 342.6,368.4 344.5,368.6 346.3,369.2 348.2,368.4 350.1,367.5 351.9,367.0 353.8,366.4 355.6,366.2 357.5,366.4 359.3,367.3 360.2,368.8 361.2,370.1 363.0,369.9 364.9,369.7 365.8,369.6 366.7,370.7 367.8,371.6 368.2,373.4 367.8,375.3 367.3,377.1 366.7,379.0 367.3,380.5 368.6,382.7 370.4,384.6 371.9,386.4 372.7,387.3 372.8,389.2 374.0,391.0 374.5,393.8 374.7,395.7 375.3,397.5 375.6,399.4 374.1,402.2 373.2,403.6 372.3,406.8 371.9,409.6 372.3,411.4 373.8,414.2 375.1,416.4 376.0,418.5 376.9,420.3 377.1,422.5 377.7,425.3 378.2,428.1 379.7,430.5 381.2,432.2 382.1,434.6 383.4,436.4 384.0,438.3 383.4,439.2 384.1,441.3 384.9,441.8 386.2,442.4 387.1,442.6 389.0,441.8 390.8,441.3 393.6,440.9 396.4,441.1 397.7,440.7 399.2,440.3 401.0,439.4 402.5,438.3 404.2,436.6 405.6,435.5 406.9,434.0 408.1,432.6 409.3,431.4 410.3,430.3 411.0,427.9 410.8,426.3 411.2,425.1 413.1,424.2 414.9,423.3 415.8,421.8 415.8,418.8 415.5,417.0 414.4,415.1 415.3,413.7 416.8,412.9 418.6,411.1 421.4,409.8 423.2,408.5 424.5,406.8 425.3,404.9 425.1,401.2 424.9,398.1 423.6,396.6 422.9,393.8 422.9,391.0 421.9,389.6 422.7,387.3 423.6,386.2 424.5,383.6 425.7,382.5 427.1,381.0 428.8,379.0 430.7,377.1 432.5,375.3 435.3,373.6 438.1,371.0 439.9,367.9 441.4,365.1 443.1,362.3 444.2,359.5 445.1,357.7 444.9,356.2 443.6,356.0 441.8,357.1 439.9,357.3 438.1,357.5 436.2,358.1 434.4,358.4 432.7,358.8 431.6,358.4 430.3,356.8 429.4,355.8 430.1,354.9 429.2,354.2 427.9,352.9 426.6,351.6 425.5,350.3 424.2,349.2 423.2,347.9 422.3,346.2 421.6,344.7 420.3,343.4 419.2,341.9 419.0,339.5 418.4,338.2 417.9,337.1 416.4,335.6 416.0,334.3 415.3,332.7 414.4,330.8 413.4,329.3 412.7,328.0 411.8,326.6 410.6,324.7 410.5,322.7"/>
<polygon points="206.8,362.1 209.2,360.7 210.1,358.4 212.0,357.5 214.8,357.1 216.3,355.8 217.6,357.7 220.0,356.6 221.3,356.8 223.7,358.4 227.4,358.4 231.1,358.4 235.2,358.2 235.5,359.5 237.4,362.1 239.8,362.7 242.6,365.5 244.4,367.0 247.2,367.1 250.0,367.5 252.8,368.8 254.6,370.3 255.5,372.5 257.4,374.7 257.4,377.7 260.2,379.4 262.0,379.2 266.7,380.7 268.5,382.7 272.2,383.3 276.9,383.6 279.6,385.5 281.5,387.2 284.6,387.9 285.4,392.0 284.8,394.8 282.4,397.5 280.6,400.3 278.2,402.5 277.4,406.8 276.9,411.1 275.9,414.8 274.1,418.5 272.2,420.5 267.6,421.1 263.9,422.9 260.2,426.3 259.6,430.9 257.4,433.7 255.5,436.4 252.8,439.6 250.9,441.1 248.3,442.7 245.4,442.6 241.8,441.4 243.9,444.4 245.0,445.7 243.5,448.5 240.7,449.8 235.2,450.2 234.6,453.1 229.6,454.1 230.5,456.8 229.6,458.7 228.7,461.5 225.0,463.9 227.7,466.1 225.0,468.9 223.5,471.3 222.2,473.7 223.3,475.0 222.9,476.3 225.0,478.7 229.2,479.6 225.9,480.4 223.1,480.9 219.4,480.0 216.6,478.7 213.9,476.3 211.4,474.4 210.5,470.7 210.1,467.0 212.0,464.2 212.9,461.5 213.9,458.7 212.9,455.9 213.5,454.1 213.9,450.3 214.4,447.6 215.7,443.9 217.2,440.2 217.6,435.5 217.9,431.8 218.9,428.1 219.4,424.4 220.0,419.8 220.0,415.1 219.6,412.0 217.6,410.1 213.9,408.1 210.1,405.5 208.7,403.1 207.0,400.3 204.6,395.7 202.7,392.0 200.0,389.2 199.6,386.4 201.2,384.4 201.8,382.3 200.3,380.9 201.2,377.5 202.2,376.2 203.8,375.1 206.4,373.3 206.8,371.0 206.6,367.9 206.4,365.5"/>
<polygon points="16.5,250.2 20.2,251.0 25.8,253.0 30.4,253.9 32.3,254.1 35.6,255.6 33.2,256.9 30.4,258.7 27.6,258.0 23.9,257.1 19.3,256.9 16.5,257.6"/>
<polygon points="230.5,262.8 224.0,262.3 216.6,260.4 206.4,258.9 207.4,256.7 214.8,254.3 209.2,251.1 198.1,248.7 187.0,247.4 183.3,243.7 190.7,241.3 201.8,241.5 209.2,243.4 218.5,246.5 225.9,249.3 235.2,253.9 235.3,255.2 230.5,257.6 228.7,258.7 229.6,261.3"/>
<polygon points="129.5,245.6 133.2,243.4 140.7,243.2 149.9,242.8 155.5,245.0 162.0,248.4 155.5,250.4 146.2,251.1 136.9,249.8 131.4,248.4"/>
<polygon points="117.5,244.8 120.3,240.4 127.7,240.0 136.0,241.9 129.5,245.6 122.1,246.5"/>
<polygon points="201.8,236.9 209.2,232.6 220.3,229.8 235.2,226.1 229.6,224.3 211.1,224.3 183.3,227.1 179.6,229.8 187.0,232.6 185.1,235.4 196.2,236.3"/>
<polygon points="201.8,240.0 183.3,240.0 179.6,238.2 187.0,236.3 200.0,235.9 205.5,238.2"/>
<polygon points="183.3,233.5 174.0,230.8 172.2,228.0 181.4,228.0 187.0,230.8"/>
<polygon points="136.9,239.1 133.2,236.7 146.2,236.1 153.6,238.2 146.2,239.5"/>
<polygon points="162.9,243.7 170.3,245.6 172.2,241.9 164.7,241.9"/>
<polygon points="175.9,244.7 183.3,241.9 174.0,240.6"/>
<polygon points="168.5,238.2 162.9,236.3 170.3,235.4 170.3,237.2"/>
<polygon points="127.7,237.2 124.0,235.4 135.1,234.6 133.2,236.3"/>
<polygon points="155.5,234.5 164.7,233.5 161.0,231.7 153.6,232.6"/>
<polygon points="188.8,260.2 199.0,259.9 198.1,257.6 192.5,255.8 188.8,257.6"/>
<polygon points="269.4,267.3 261.1,265.0 256.5,260.4 253.7,257.6 250.9,254.8 250.4,251.1 255.5,249.3 249.1,247.4 246.3,244.7 242.6,240.0 237.0,237.6 227.7,237.2 218.5,235.4 214.8,233.2 220.3,231.7 231.5,228.9 238.9,226.5 257.4,225.6 272.2,223.7 290.8,223.2 303.7,223.9 313.0,225.6 327.8,227.1 320.4,228.9 315.8,231.7 313.0,235.4 315.8,237.2 311.1,240.0 309.3,243.7 307.4,247.4 301.9,251.1 292.6,252.1 286.1,255.8 279.6,256.7 275.9,258.6 274.1,261.3 271.3,264.1"/>
<polygon points="305.6,256.7 309.3,255.0 319.5,254.8 323.2,256.7 324.8,257.6 322.3,258.9 315.8,260.6 308.4,259.9"/>
<polygon points="370.4,232.6 379.7,229.8 387.1,228.9 400.1,229.5 390.8,232.6 383.4,236.1 376.0,234.8"/>
<polygon points="446.4,245.6 452.0,247.1 456.6,247.1 453.8,243.7 455.7,240.0 464.9,237.6 477.9,235.6 472.4,235.4 459.4,237.4 452.0,240.2 449.2,243.2"/>
<polygon points="437.1,229.8 446.4,228.9 461.2,229.1 464.9,228.0 452.0,226.7 439.0,228.0"/>
<polygon points="524.2,231.7 535.4,232.6 548.3,233.2 542.8,230.8 535.4,227.6 520.5,228.9"/>
<polygon points="603.9,240.0 613.2,242.2 628.0,239.1 618.7,237.2 607.6,237.2"/>
<polygon points="681.0,246.5 683.6,245.6 683.6,246.7"/>
<polygon points="16.5,245.6 21.1,246.1 16.5,246.7"/>
<polygon points="441.4,400.3 442.7,403.1 443.6,406.4 442.7,408.7 441.8,410.5 440.8,414.2 439.7,417.9 438.6,421.6 437.3,424.2 434.4,425.3 432.3,424.4 431.0,421.6 430.3,418.8 431.2,417.0 432.3,414.2 431.6,411.4 432.1,408.7 433.8,407.7 436.2,407.2 438.3,405.1 439.0,403.6 440.5,401.8"/>
<polygon points="339.5,285.2 342.6,284.7 344.5,284.1 347.3,284.1 350.6,283.9 352.6,283.2 351.7,282.5 353.2,280.8 353.2,280.0 350.6,279.9 350.2,278.9 349.7,277.8 348.0,276.9 347.1,275.0 346.0,274.3 345.4,273.4 346.5,271.5 344.1,271.2 342.6,271.0 344.3,269.5 340.8,269.5 340.4,271.0 339.3,271.5 339.7,273.4 339.5,274.3 341.0,274.7 340.6,276.2 341.5,276.5 343.7,276.3 343.4,277.3 344.5,278.2 344.5,279.1 341.7,279.1 342.3,280.0 342.3,281.2 340.6,282.1 342.3,282.5 343.9,282.8 342.1,283.2 340.4,284.1"/>
<polygon points="338.6,279.1 338.9,278.0 339.9,276.9 338.6,275.8 336.5,275.4 334.3,276.2 333.9,277.6 331.7,277.6 331.5,278.9 332.4,279.9 331.7,281.5 331.0,282.1 332.4,282.5 334.9,282.1 337.1,281.5 338.2,281.3"/>
<polygon points="590.6,316.0 591.9,315.3 593.7,315.8 594.5,317.3 593.5,319.9 592.1,320.6 591.3,319.9 591.5,317.9 590.4,317.3"/>
<polygon points="595.6,316.6 596.9,317.3 598.7,316.4 599.7,315.1 598.7,314.5 596.5,314.9"/>
<polygon points="592.6,315.3 594.7,315.3 597.4,314.3 599.3,313.8 600.6,314.5 601.7,316.0 603.5,314.5 603.9,314.0 606.3,314.0 607.3,313.8 608.0,312.7 609.1,313.4 610.0,313.0 611.1,311.4 611.1,308.6 611.3,307.1 612.4,306.0 613.2,304.7 612.6,303.0 612.1,301.4 610.0,301.7 609.3,302.8 609.5,304.3 609.1,305.8 608.4,306.9 607.3,308.0 604.5,309.7 603.5,309.0 603.4,310.6 602.1,311.9 601.1,312.1 598.7,312.3 596.7,312.1 596.0,312.5 593.9,313.8 592.8,314.3"/>
<polygon points="609.5,301.2 611.7,300.6 612.6,299.1 615.6,300.2 618.4,298.6 619.7,297.8 619.1,296.2 616.9,296.2 614.1,294.1 612.6,293.9 612.4,295.8 611.9,297.8 610.2,297.8 609.1,299.9"/>
<polygon points="613.2,292.8 616.0,291.9 615.0,290.1 614.5,287.3 615.6,285.4 615.4,282.6 616.1,280.2 615.0,277.5 613.7,277.6 613.6,279.1 612.6,281.7 613.0,285.4 613.0,289.1 613.0,291.4"/>
<polygon points="574.3,331.7 576.1,331.6 575.2,334.5 574.1,337.3 572.8,335.8 572.6,334.0 573.5,332.5"/>
<polygon points="551.5,342.3 553.5,340.8 555.7,341.2 554.8,343.4 553.0,344.3 551.5,343.8"/>
<polygon points="498.1,359.9 498.9,359.9 500.5,362.1 501.8,364.5 501.4,366.0 499.4,367.1 498.3,365.7 497.9,363.3"/>
<polygon points="573.5,343.8 575.9,344.0 576.5,346.6 575.4,348.6 575.4,350.8 577.2,352.1 579.8,354.0 578.9,354.4 576.1,352.7 574.1,351.8 573.5,351.2 572.6,348.8 573.0,347.1"/>
<polygon points="576.1,365.1 578.9,363.6 580.4,362.3 582.6,360.1 584.1,362.3 584.5,365.1 582.6,367.3 580.2,366.6 578.0,364.5"/>
<polygon points="580.2,354.9 582.8,355.7 582.2,357.7 581.3,359.2 579.8,357.7"/>
<polygon points="575.9,356.0 578.3,357.7 578.9,359.5 578.3,361.2 577.0,359.9 576.1,358.4"/>
<polygon points="567.2,362.5 571.5,358.6 571.9,357.3 570.0,359.5"/>
<polygon points="552.0,375.3 553.3,374.4 555.7,375.1 556.7,373.4 559.4,372.1 561.3,369.7 563.7,368.8 565.0,367.0 566.9,365.1 568.2,366.6 570.9,368.3 569.3,369.7 568.2,371.6 568.7,373.8 570.6,376.2 568.5,376.6 567.8,379.0 566.5,380.9 565.9,382.7 565.4,385.1 562.2,385.1 559.4,384.0 557.0,383.6 554.3,383.6 553.9,381.4 552.6,379.6 552.0,377.3"/>
<polygon points="526.6,367.7 530.7,368.4 532.2,370.1 534.8,372.1 536.8,374.4 538.5,375.3 540.9,377.0 542.4,379.9 543.7,381.4 546.3,383.4 546.5,385.5 546.1,388.8 543.9,389.0 541.8,387.0 539.6,385.5 537.2,382.5 535.9,379.9 533.9,377.5 532.8,374.7 531.1,373.4 529.4,371.2 527.6,369.7"/>
<polygon points="545.0,390.7 546.5,389.0 549.3,389.2 551.1,390.1 554.8,390.7 557.2,390.5 558.9,390.9 562.2,392.5 559.4,393.5 555.7,393.3 551.1,392.5 547.4,391.8"/>
<polygon points="562.2,393.1 566.9,393.5 570.6,393.5 574.3,393.5 578.0,393.5 578.0,394.2 574.3,394.6 570.6,394.4 566.9,394.8 562.2,394.4"/>
<polygon points="579.8,396.6 582.6,394.2 585.9,393.6 581.7,395.9 579.8,397.3"/>
<polygon points="571.3,388.3 570.6,383.6 570.2,382.7 571.3,380.3 572.0,378.1 572.8,376.6 575.2,376.0 578.0,376.4 580.8,376.2 582.1,375.1 580.8,377.3 578.0,377.3 574.6,377.3 573.0,378.6 574.3,379.9 577.0,379.6 578.7,379.7 577.0,381.0 575.2,381.8 576.7,384.2 577.6,386.4 576.1,387.0 574.6,385.7 573.7,383.3 573.2,384.6 573.2,388.5"/>
<polygon points="586.3,374.7 588.2,375.3 587.2,377.1 588.7,378.1 587.2,379.6 586.3,377.1"/>
<polygon points="587.2,383.6 591.9,384.0 592.4,385.1 588.2,384.7"/>
<polygon points="583.5,384.0 585.8,384.2 585.4,385.1 583.9,384.9"/>
<polygon points="592.8,380.5 595.6,378.8 598.4,379.7 600.2,384.2 602.1,382.2 604.8,380.9 607.6,381.8 611.3,382.9 614.1,384.0 617.8,385.3 620.0,387.0 620.6,388.5 623.4,389.2 623.9,390.5 622.1,392.0 624.3,393.3 625.2,394.8 627.1,395.9 628.9,397.2 627.6,397.5 624.3,396.8 622.4,395.7 620.6,392.9 617.8,392.2 616.0,393.5 615.0,394.8 611.3,394.9 609.5,392.9 607.3,393.3 605.6,392.0 606.7,390.1 605.8,388.3 602.1,386.4 599.3,385.1 597.4,385.5 596.1,384.7 594.7,383.3 596.5,382.5 593.7,380.9"/>
<polygon points="625.2,388.3 628.0,387.3 630.8,386.4 632.1,386.0 631.5,387.3 628.9,389.6 626.2,389.4"/>
<polygon points="640.6,390.7 642.1,391.8 641.4,392.0"/>
<polygon points="644.3,392.9 646.2,394.0 645.2,394.2"/>
<polygon points="647.7,395.1 649.1,396.2 648.2,396.4"/>
<polygon points="561.3,418.5 564.1,416.8 566.9,416.2 570.2,415.7 573.0,414.6 575.2,412.5 576.7,410.1 578.0,408.5 579.5,408.1 580.8,406.4 582.6,404.9 584.5,403.8 586.3,404.4 587.6,405.7 590.0,405.7 590.6,403.1 591.9,401.4 593.2,400.7 595.6,400.3 596.0,399.0 597.4,399.9 599.3,400.3 601.1,400.7 603.4,400.3 603.0,402.5 601.1,405.1 603.0,406.8 605.4,408.3 607.6,410.1 610.4,410.7 612.1,408.5 612.4,405.9 612.3,403.1 612.8,401.2 613.9,398.1 615.0,399.9 616.0,403.1 617.3,404.8 619.3,405.7 619.5,408.1 620.6,410.5 621.2,413.3 623.9,414.8 626.0,416.1 627.1,419.4 629.5,420.0 630.4,422.5 633.6,425.3 634.5,430.3 633.8,433.7 633.2,436.4 631.7,438.9 630.2,440.9 629.3,442.9 628.0,445.7 627.8,447.6 624.3,448.3 621.2,450.5 618.7,449.4 618.0,448.9 616.0,450.0 613.2,449.2 610.6,448.5 608.9,446.6 608.6,444.8 606.7,444.0 606.0,441.4 605.4,438.9 604.3,440.5 602.1,442.4 601.3,442.6 600.6,441.1 598.7,438.9 596.5,437.6 593.2,436.4 589.1,436.6 585.4,437.7 581.7,438.7 579.8,439.2 578.9,440.9 576.1,440.9 572.4,441.1 569.6,442.6 566.9,442.9 564.8,442.0 563.2,441.6 564.3,439.8 564.4,437.4 563.2,433.7 563.0,431.8 561.7,430.1 560.4,427.4 560.2,425.3 560.9,423.5 560.4,421.6 560.9,419.8"/>
<polygon points="618.0,453.5 621.5,454.2 624.9,453.9 624.7,456.3 623.9,458.1 622.3,458.9 620.6,458.7 619.1,456.5 618.2,454.6"/>
<polygon points="670.1,441.8 672.5,443.3 674.0,445.7 675.4,447.0 676.2,447.7 679.0,448.3 680.8,447.9 679.9,450.3 678.0,450.9 677.7,452.2 674.9,455.2 673.6,454.6 674.1,452.2 672.1,450.7 673.4,450.0 674.0,448.1 673.0,445.7 670.6,443.3"/>
<polygon points="670.1,453.1 673.0,454.1 672.9,455.5 671.0,457.8 670.1,459.2 667.3,460.5 666.2,463.1 663.8,464.4 661.4,464.2 658.6,463.3 659.0,461.8 661.4,459.6 666.0,457.8 667.8,455.3 669.0,453.9"/>
<polygon points="192.7,337.5 194.4,336.0 198.1,335.3 201.8,335.5 206.4,337.7 209.8,339.0 212.6,340.6 210.1,341.2 206.1,341.2 207.0,339.7 204.6,338.0 200.9,337.3 198.1,336.6 195.3,337.3"/>
<polygon points="212.2,341.4 215.1,341.2 218.5,341.2 222.2,342.5 223.3,343.6 220.3,344.3 217.7,345.5 215.1,344.5 212.2,344.0 215.1,343.6"/>
<polygon points="205.0,344.0 208.7,344.3 207.7,344.9 205.5,344.5"/>
<polygon points="225.5,343.8 228.5,344.0 228.3,344.7 225.5,344.7"/>
<polygon points="240.0,289.9 246.3,286.2 247.2,282.6 244.8,282.8 241.6,287.3 240.0,288.2 244.4,289.9 247.2,291.0 250.7,291.7 252.2,289.9 250.9,286.9 247.2,285.8 245.9,286.3"/>
<polygon points="121.6,288.4 117.5,287.5 112.3,283.9 114.7,284.3 118.8,286.2"/>
<polygon points="105.4,278.0 107.3,278.9 106.4,281.2 103.6,278.9"/>
<polygon points="373.0,307.5 375.1,307.3 379.0,307.1 378.0,310.1 376.5,309.5 373.6,308.4"/>
<polygon points="365.6,302.3 367.8,301.9 368.2,304.0 367.7,305.6 366.0,306.0 365.6,304.5"/>
<polygon points="366.0,300.2 367.5,298.4 367.7,300.2 367.1,301.4 366.4,301.0"/>
<polygon points="393.6,312.7 396.4,312.5 398.8,312.8 396.0,313.4 393.8,312.8"/>
<polygon points="409.9,313.6 411.2,312.7 414.0,312.1 412.9,313.2 411.2,314.0"/>
<polygon points="370.4,275.6 373.2,274.3 373.2,275.8 371.4,276.2"/>
</g>
<clipPath id="lc">
<polygon points="38.6,256.5 41.5,255.2 46.5,255.6 49.9,254.1 46.5,252.6 41.0,251.5 47.1,250.0 51.7,247.8 59.5,246.0 67.8,246.9 74.9,247.8 84.1,248.2 90.6,249.1 97.1,250.4 100.8,249.3 105.4,248.9 110.1,248.4 112.9,247.4 117.5,249.5 124.9,248.7 132.3,250.2 137.9,251.5 146.2,252.1 152.7,251.5 161.0,252.4 167.5,252.4 170.3,251.1 173.1,252.1 175.9,249.3 173.1,245.6 176.2,244.7 180.5,248.0 187.0,250.6 190.7,252.1 192.5,249.1 198.1,249.8 199.0,253.0 195.3,255.4 189.8,254.8 187.9,257.1 182.3,260.4 177.7,264.1 174.9,266.9 175.5,269.1 178.6,272.1 183.3,272.5 188.8,274.7 192.5,275.6 197.5,276.0 197.7,279.9 200.9,283.0 203.7,282.6 204.0,278.9 207.4,275.2 208.1,273.4 206.4,269.7 204.6,267.3 206.4,265.0 205.5,262.4 211.1,262.6 216.6,263.6 220.3,265.0 221.3,268.4 224.0,269.7 227.7,269.1 230.5,266.3 233.3,269.7 236.1,272.8 238.9,275.2 242.6,277.1 243.9,278.9 246.8,281.3 244.4,282.8 239.8,284.5 235.2,285.1 230.5,285.1 226.8,285.8 223.1,287.3 220.7,288.8 224.0,288.0 227.7,287.1 230.9,287.6 230.0,289.5 230.5,292.3 235.2,293.4 238.5,292.5 237.9,293.8 232.4,295.4 228.7,297.5 227.4,296.0 230.5,294.1 227.7,294.3 225.9,295.1 223.1,296.2 220.0,297.3 218.9,299.1 220.3,300.6 219.4,301.2 216.6,301.7 212.9,302.8 212.9,304.5 211.1,306.0 210.1,306.7 209.2,308.6 209.4,310.4 210.1,312.7 208.3,314.0 205.9,315.1 203.7,316.4 200.9,318.2 199.4,320.3 199.4,322.5 200.7,325.6 201.8,328.6 201.2,331.2 200.0,331.4 198.7,329.9 197.7,328.2 196.8,326.2 196.6,324.3 194.9,322.7 193.5,322.5 191.8,323.0 189.8,321.7 187.0,321.4 184.2,322.1 184.6,324.0 182.9,324.2 180.5,323.4 176.8,323.0 174.4,323.8 171.2,325.6 169.7,327.5 169.7,330.1 169.0,333.2 169.2,336.4 169.9,338.8 171.6,341.9 173.6,343.4 175.1,344.3 178.6,343.6 180.9,343.6 182.3,341.4 182.5,339.2 186.1,338.2 188.8,338.2 188.1,340.6 187.4,344.0 186.4,345.6 186.4,348.4 187.9,348.8 190.7,348.6 193.5,348.8 195.7,350.3 195.3,354.9 194.9,357.7 196.2,359.5 198.5,361.4 200.9,361.2 202.7,360.3 205.5,361.0 206.8,362.1 206.4,364.2 204.6,362.5 202.5,361.6 201.1,362.9 201.6,364.4 199.6,363.8 198.1,362.9 195.3,362.3 193.5,360.3 191.2,359.7 191.1,357.7 189.2,355.3 187.5,354.0 186.1,353.6 183.6,353.1 180.7,352.3 178.6,351.0 176.2,348.6 174.6,348.1 171.8,349.0 168.8,348.4 165.7,346.9 162.0,345.3 158.3,344.2 155.7,342.3 154.4,340.3 154.9,338.2 154.0,336.2 152.0,334.0 149.9,331.7 147.7,330.5 147.1,328.6 145.1,326.6 142.9,324.7 141.0,322.1 140.3,320.3 137.3,319.5 137.5,322.1 139.7,324.3 141.2,326.7 143.2,329.0 144.7,332.1 146.2,334.3 147.1,335.3 145.8,335.6 143.4,333.0 142.1,331.7 142.0,329.3 139.7,328.4 137.9,326.6 138.4,325.1 136.0,323.0 134.0,319.7 133.1,317.9 132.5,316.6 130.5,315.1 128.4,314.3 126.6,314.0 125.8,312.1 124.2,310.3 123.1,308.6 122.1,307.7 120.8,306.0 120.5,304.0 119.5,303.0 120.1,300.6 119.3,298.8 120.1,296.5 120.3,292.5 119.9,291.0 119.0,288.4 122.1,288.8 122.7,287.3 121.2,286.3 118.8,285.4 114.7,283.6 113.2,281.3 111.9,279.5 109.2,277.5 108.2,276.2 105.8,274.3 103.6,272.5 100.8,270.0 98.4,268.4 95.3,269.3 91.0,267.4 87.8,266.9 84.1,266.7 79.5,265.4 75.8,266.0 73.0,267.3 68.9,268.4 69.3,265.6 72.1,264.7 67.5,266.3 65.6,268.4 64.3,270.2 61.0,271.5 57.3,273.4 52.6,275.2 48.9,276.3 45.2,277.1 48.0,275.8 51.7,274.5 55.4,272.6 58.2,271.0 59.1,269.1 56.3,269.1 52.6,269.3 49.9,267.6 45.8,267.1 43.7,265.8 44.3,264.1 42.4,263.2 44.7,261.3 48.0,261.1 51.7,260.4 52.1,258.6 48.0,258.4 44.3,258.6 41.5,258.2"/>
<polygon points="409.9,320.1 413.4,320.1 414.7,317.9 415.1,316.6 415.8,315.1 416.6,313.2 416.4,311.4 417.1,310.3 415.8,310.3 414.2,309.9 412.1,311.0 410.3,311.2 407.5,309.9 406.6,310.6 404.7,311.0 402.5,309.9 400.8,309.5 400.5,308.0 399.0,307.1 399.7,306.0 399.3,304.9 398.6,304.0 399.3,303.2 398.6,302.8 398.2,302.5 396.4,302.2 394.5,302.5 394.0,303.6 392.7,303.2 391.9,303.2 392.5,305.2 393.6,306.7 394.5,307.5 392.7,307.8 393.0,309.0 392.3,310.4 391.6,309.7 391.0,310.1 390.3,309.9 389.9,308.4 389.1,307.1 388.4,305.8 387.5,304.7 386.0,303.2 386.0,302.1 386.2,300.6 384.7,299.7 383.0,298.6 380.6,297.7 379.5,297.3 378.2,296.2 377.1,294.5 375.8,295.1 375.4,293.4 373.0,293.8 372.8,295.1 372.8,296.2 374.1,297.1 375.8,298.8 377.1,300.1 379.3,300.4 380.1,300.8 381.6,301.9 383.4,302.8 384.3,303.8 383.4,304.1 381.9,303.2 380.8,304.0 380.8,304.7 381.7,305.8 380.8,306.7 379.9,307.7 379.1,307.8 379.0,307.3 379.5,306.5 380.1,305.8 379.1,304.1 377.8,303.6 376.9,302.8 376.0,302.5 374.1,301.5 372.7,300.6 370.8,299.5 369.5,298.4 369.0,296.7 367.1,296.0 365.4,296.7 363.9,296.9 362.5,298.2 360.8,298.2 358.9,297.7 357.5,297.5 355.8,298.2 355.8,299.5 356.0,300.4 354.1,301.5 351.7,302.1 350.4,303.6 349.5,304.9 350.4,306.2 349.1,307.1 348.6,308.4 346.9,309.5 346.0,310.1 342.6,310.1 341.3,310.4 340.2,311.2 339.7,311.4 338.6,310.6 338.0,309.7 336.3,309.1 335.2,309.5 333.6,309.5 333.7,307.7 332.4,306.4 332.6,305.1 333.6,303.6 333.9,301.7 333.6,300.2 332.8,298.6 334.9,297.5 337.1,297.3 339.3,297.3 341.7,297.7 344.5,297.7 346.7,297.7 347.5,296.5 347.8,294.7 347.8,292.5 346.0,291.0 344.9,290.1 341.9,289.5 341.3,288.4 343.6,287.6 346.3,288.0 347.1,287.8 346.5,286.0 347.6,286.2 349.7,286.7 350.6,286.0 352.8,285.1 353.0,283.8 354.7,283.4 356.5,282.8 357.5,281.9 358.4,281.0 358.8,280.0 359.3,279.3 361.2,279.1 363.0,278.9 364.9,278.8 366.2,278.2 366.4,277.1 366.0,276.2 365.1,275.0 365.1,273.4 365.4,272.5 367.7,272.3 369.5,271.3 369.7,272.5 369.1,273.7 370.2,273.6 369.7,274.5 368.6,275.2 368.0,276.2 368.6,276.9 370.2,277.3 371.4,277.8 373.2,277.3 375.4,277.6 376.5,278.2 378.8,277.6 381.2,276.9 384.3,276.5 385.8,277.3 386.9,276.3 389.1,275.8 389.1,274.3 389.0,272.8 390.3,271.3 391.9,271.0 393.2,272.3 395.1,272.1 395.1,270.0 393.6,269.5 393.6,268.4 396.0,267.8 399.2,267.8 401.9,267.8 404.7,267.1 406.2,267.0 403.8,266.5 401.6,266.0 399.2,266.2 394.5,266.9 392.5,267.1 389.7,265.8 389.9,264.1 389.5,262.3 389.3,261.0 391.6,259.9 393.6,258.6 395.4,257.8 397.1,257.3 396.7,256.5 395.1,256.1 392.7,256.1 390.8,256.7 389.5,257.8 389.3,258.9 387.5,259.9 385.3,261.0 383.4,262.1 382.3,263.6 381.9,265.0 382.1,265.8 384.1,266.3 385.1,267.3 383.8,268.0 383.0,268.9 381.2,269.5 380.6,270.8 380.6,272.5 379.5,273.9 377.3,273.9 376.4,275.4 374.0,275.4 373.8,274.5 373.2,273.7 373.4,272.6 372.1,271.7 371.5,270.2 370.8,268.9 369.7,268.2 369.3,267.1 369.0,268.7 367.7,268.9 365.6,270.0 363.0,270.6 361.2,270.0 360.2,269.1 360.2,268.2 359.3,266.5 359.3,265.0 359.5,263.6 359.9,262.6 361.5,262.1 363.0,261.5 364.9,260.8 366.4,260.0 368.2,259.5 369.5,258.4 371.4,257.6 372.7,256.1 373.8,254.8 375.3,253.4 376.9,252.3 378.8,251.5 379.7,250.6 381.9,249.8 383.8,248.9 386.2,248.2 389.0,248.0 391.7,247.4 394.0,246.7 396.4,246.3 399.2,246.5 401.9,246.3 404.7,246.9 407.5,247.8 405.6,248.7 408.4,248.9 411.2,249.5 414.9,249.8 418.6,250.4 421.4,251.3 424.2,252.3 426.0,253.2 426.4,254.5 424.2,255.4 421.4,255.8 416.8,255.4 414.0,254.8 412.1,254.5 410.8,254.8 412.7,256.0 414.5,257.1 414.5,258.6 417.7,259.3 419.5,259.9 420.5,258.7 419.0,257.6 421.4,258.0 424.2,258.6 425.1,257.8 424.0,256.7 426.0,255.8 428.2,254.8 431.6,255.4 432.0,253.5 431.2,251.5 434.4,251.1 436.2,252.3 439.0,252.6 440.8,252.1 444.6,251.3 448.3,250.6 451.0,251.5 453.8,251.0 457.5,250.4 460.3,251.3 462.2,250.2 462.7,248.7 464.9,248.9 468.6,249.7 472.4,250.2 475.1,251.1 477.0,251.5 477.9,250.4 475.5,249.3 474.2,248.2 474.0,246.5 476.1,245.0 477.5,243.5 478.8,242.8 481.6,242.2 484.6,243.2 485.0,244.7 483.5,246.1 484.6,247.2 484.4,249.3 484.2,251.1 485.7,252.8 483.8,254.3 486.2,254.3 488.1,252.8 488.7,251.0 486.4,249.8 486.8,248.0 485.5,246.1 488.1,244.7 489.6,243.5 491.8,244.3 495.5,243.9 499.2,244.7 502.9,245.4 499.2,241.7 502.9,241.3 510.3,241.3 509.4,239.8 514.0,238.7 520.5,237.8 527.9,237.1 533.5,236.3 537.2,235.4 541.8,234.3 545.5,234.3 547.4,234.8 549.3,236.1 555.7,235.9 560.4,237.1 560.4,239.1 556.7,240.4 553.9,240.9 558.5,241.5 563.2,241.5 569.6,241.9 575.2,243.0 579.8,241.5 584.5,241.9 588.2,243.2 590.0,245.0 592.4,246.5 595.6,245.0 600.2,245.4 604.8,245.8 608.6,244.7 611.3,243.4 616.0,243.4 620.6,244.1 627.1,244.5 628.9,246.0 633.6,246.7 640.1,246.5 644.7,246.9 646.5,248.4 649.3,249.1 654.0,248.9 660.4,249.1 664.1,250.6 666.0,248.4 669.7,248.5 675.3,248.7 680.8,249.5 683.6,250.2 683.6,257.6 680.8,258.2 678.0,258.2 677.1,259.5 680.8,261.0 682.3,262.6 678.0,262.3 673.4,263.6 670.6,264.3 666.9,266.0 664.1,266.7 659.5,266.3 656.7,267.1 654.0,267.1 652.7,268.7 650.2,270.4 652.1,271.3 651.2,273.9 649.9,275.8 647.5,277.5 646.5,279.5 643.8,280.2 643.2,281.7 640.4,283.8 639.7,282.1 639.1,278.9 638.4,275.8 638.9,273.0 640.8,271.2 643.2,270.6 646.2,268.9 649.3,266.7 653.0,264.1 654.0,262.4 651.2,263.7 647.5,265.0 645.6,263.7 641.0,263.9 638.2,265.8 636.0,267.6 632.6,268.6 629.9,268.6 626.2,267.6 621.5,268.0 617.8,268.0 614.1,268.6 611.0,270.2 608.6,271.5 606.3,273.2 603.9,275.8 602.1,276.9 604.8,278.0 607.6,277.6 610.8,279.3 612.1,280.8 611.3,282.6 610.4,285.2 610.0,288.0 607.6,290.2 605.8,292.5 603.2,294.7 600.8,296.9 597.1,298.8 594.8,298.0 593.2,298.9 592.1,299.5 590.6,301.7 590.2,302.5 588.7,303.2 586.9,304.3 586.1,305.2 587.8,306.5 588.9,308.2 589.8,309.9 590.0,311.9 589.5,312.8 588.2,313.2 586.5,313.8 584.5,314.3 584.1,312.8 584.6,311.0 583.9,309.7 584.8,308.4 583.5,308.0 582.1,308.2 581.7,306.7 582.4,305.1 581.1,304.5 579.8,304.1 577.6,303.6 575.6,305.1 574.8,305.8 575.6,304.1 576.5,303.2 575.8,302.3 574.3,302.3 573.2,303.2 571.5,304.1 570.4,305.6 568.9,305.4 568.2,306.2 568.3,307.3 569.6,307.7 570.6,309.1 572.4,308.8 573.9,308.0 575.2,308.6 577.0,308.8 577.0,309.7 575.2,310.1 573.7,311.0 572.4,312.1 570.9,313.4 572.8,314.5 573.7,316.6 574.3,318.0 575.9,319.3 575.8,320.8 575.0,321.4 576.1,322.5 575.6,323.8 575.9,324.9 574.6,325.8 573.5,327.1 572.2,328.6 571.7,330.1 570.6,331.4 569.6,332.5 568.3,333.6 566.5,334.9 564.1,335.8 561.7,336.8 560.4,336.9 558.9,337.5 557.0,338.0 555.0,338.6 554.4,339.9 553.9,340.5 553.3,339.2 553.5,338.2 551.3,337.9 549.3,338.4 547.8,339.7 546.5,341.4 545.9,343.1 547.2,344.7 548.3,346.2 549.8,347.9 551.5,349.7 552.2,352.1 552.6,354.7 552.0,357.0 550.6,357.9 548.7,358.8 547.6,359.9 545.4,362.0 544.3,362.1 544.3,360.3 544.6,359.2 543.5,358.6 541.8,358.4 540.5,356.4 539.6,355.3 538.1,354.5 537.0,354.7 537.0,353.4 535.5,353.2 535.4,354.9 534.1,358.1 533.9,359.9 535.0,361.0 535.9,362.7 536.7,365.1 537.8,365.3 539.4,366.6 540.7,367.9 541.7,369.7 541.7,372.0 542.6,373.4 543.3,375.5 541.8,375.7 540.5,374.6 537.8,372.7 536.7,370.8 536.1,368.8 535.9,367.0 535.4,365.8 534.2,364.5 533.1,363.3 532.2,362.7 532.4,361.0 532.8,358.6 533.1,356.8 532.8,354.9 532.2,353.1 531.6,350.6 531.1,348.4 530.4,346.8 528.9,347.3 526.8,348.8 525.3,348.4 524.8,346.9 525.3,345.1 524.6,343.2 523.3,341.9 522.2,340.5 521.1,339.5 520.5,338.0 520.2,336.8 518.7,336.0 517.8,337.1 516.1,337.5 514.6,338.0 513.5,337.9 511.3,338.2 510.9,339.9 509.4,341.4 507.6,342.3 505.7,344.2 503.9,345.5 502.6,347.1 501.1,348.4 499.8,349.0 498.7,350.3 498.9,353.1 498.1,355.8 497.9,358.6 496.8,359.2 496.3,361.0 495.0,361.6 493.7,363.1 492.0,361.6 491.3,359.5 490.3,357.0 489.4,355.3 488.5,353.1 487.7,350.8 486.8,348.8 485.9,346.0 485.1,343.4 485.0,341.2 484.8,339.2 484.6,337.7 484.0,339.0 482.0,339.5 480.3,339.2 478.3,337.3 478.8,336.4 480.5,335.6 478.5,335.8 477.0,334.7 475.1,333.8 473.8,332.1 473.3,331.0 469.6,331.4 465.9,331.6 464.0,331.4 460.5,331.0 457.5,330.6 456.2,330.1 455.3,328.0 454.2,327.9 452.0,328.6 450.1,328.8 448.3,328.0 446.4,326.6 445.1,326.2 444.2,324.5 443.1,322.5 441.8,322.3 440.5,321.7 439.0,322.5 438.8,323.8 439.9,325.6 440.8,326.9 442.1,328.2 442.9,329.5 443.6,331.0 444.2,332.1 445.1,333.0 445.7,331.7 445.5,330.1 444.9,329.7 446.4,333.4 449.2,333.4 451.0,333.0 452.9,331.2 454.0,329.9 454.6,329.2 454.6,330.8 454.6,331.9 456.0,333.8 457.9,334.3 459.0,334.9 460.1,336.2 460.9,336.6 460.1,338.4 459.0,340.1 458.1,340.3 457.2,341.4 457.0,342.9 455.3,343.4 454.4,344.9 452.5,345.5 452.0,346.6 450.1,346.8 448.4,347.3 446.8,349.0 444.9,349.9 441.8,351.0 440.3,352.1 438.1,353.1 436.2,353.2 434.5,353.8 433.4,354.4 432.0,354.7 430.7,354.5 430.1,353.4 429.7,351.9 429.2,349.4 429.4,347.7 428.6,346.6 427.3,344.9 426.4,343.2 425.3,341.4 423.6,339.5 422.5,337.9 422.3,336.2 421.4,334.3 420.3,333.0 419.2,331.7 418.2,330.3 417.1,328.8 416.0,327.1 415.1,326.0 414.5,325.1 414.7,323.4 413.6,326.6 412.3,325.6 411.2,324.0 410.5,322.7"/>
<polygon points="409.9,320.1 407.5,319.5 405.6,320.1 403.8,320.8 401.9,320.4 400.1,319.9 396.7,319.5 394.5,318.8 392.9,317.7 390.8,317.1 389.0,317.3 387.3,318.4 386.7,320.3 385.3,321.9 383.4,321.0 381.6,320.4 379.1,319.5 378.2,318.2 375.6,317.3 373.2,317.3 371.4,316.7 370.4,315.8 369.3,315.6 368.8,314.5 370.2,313.2 370.4,311.9 369.5,310.6 370.4,309.5 369.0,309.1 367.7,309.0 365.8,309.7 363.4,309.5 361.5,309.7 359.3,310.1 356.5,309.9 353.8,310.3 351.9,310.6 350.1,311.6 348.2,312.1 346.3,313.0 344.5,312.7 341.9,312.8 340.2,311.6 339.1,311.7 338.6,312.7 337.4,314.7 336.0,315.8 334.3,316.6 332.8,317.9 331.9,319.7 332.1,321.6 331.5,323.2 329.7,324.9 327.8,326.0 326.0,326.7 324.5,328.6 323.2,329.9 322.6,331.7 321.3,333.6 320.4,334.9 319.8,336.4 318.7,337.7 318.4,339.3 319.5,341.0 319.8,342.5 320.2,344.3 320.0,346.6 319.5,348.1 318.9,349.4 317.8,350.6 318.7,351.8 318.9,353.4 318.9,355.1 320.2,356.0 321.5,356.8 322.6,358.1 324.1,359.5 325.4,360.8 326.0,362.5 327.1,364.0 328.7,365.1 330.6,366.4 332.4,367.9 334.3,369.2 336.2,369.9 338.0,369.6 339.9,368.6 342.6,368.4 344.5,368.6 346.3,369.2 348.2,368.4 350.1,367.5 351.9,367.0 353.8,366.4 355.6,366.2 357.5,366.4 359.3,367.3 360.2,368.8 361.2,370.1 363.0,369.9 364.9,369.7 365.8,369.6 366.7,370.7 367.8,371.6 368.2,373.4 367.8,375.3 367.3,377.1 366.7,379.0 367.3,380.5 368.6,382.7 370.4,384.6 371.9,386.4 372.7,387.3 372.8,389.2 374.0,391.0 374.5,393.8 374.7,395.7 375.3,397.5 375.6,399.4 374.1,402.2 373.2,403.6 372.3,406.8 371.9,409.6 372.3,411.4 373.8,414.2 375.1,416.4 376.0,418.5 376.9,420.3 377.1,422.5 377.7,425.3 378.2,428.1 379.7,430.5 381.2,432.2 382.1,434.6 383.4,436.4 384.0,438.3 383.4,439.2 384.1,441.3 384.9,441.8 386.2,442.4 387.1,442.6 389.0,441.8 390.8,441.3 393.6,440.9 396.4,441.1 397.7,440.7 399.2,440.3 401.0,439.4 402.5,438.3 404.2,436.6 405.6,435.5 406.9,434.0 408.1,432.6 409.3,431.4 410.3,430.3 411.0,427.9 410.8,426.3 411.2,425.1 413.1,424.2 414.9,423.3 415.8,421.8 415.8,418.8 415.5,417.0 414.4,415.1 415.3,413.7 416.8,412.9 418.6,411.1 421.4,409.8 423.2,408.5 424.5,406.8 425.3,404.9 425.1,401.2 424.9,398.1 423.6,396.6 422.9,393.8 422.9,391.0 421.9,389.6 422.7,387.3 423.6,386.2 424.5,383.6 425.7,382.5 427.1,381.0 428.8,379.0 430.7,377.1 432.5,375.3 435.3,373.6 438.1,371.0 439.9,367.9 441.4,365.1 443.1,362.3 444.2,359.5 445.1,357.7 444.9,356.2 443.6,356.0 441.8,357.1 439.9,357.3 438.1,357.5 436.2,358.1 434.4,358.4 432.7,358.8 431.6,358.4 430.3,356.8 429.4,355.8 430.1,354.9 429.2,354.2 427.9,352.9 426.6,351.6 425.5,350.3 424.2,349.2 423.2,347.9 422.3,346.2 421.6,344.7 420.3,343.4 419.2,341.9 419.0,339.5 418.4,338.2 417.9,337.1 416.4,335.6 416.0,334.3 415.3,332.7 414.4,330.8 413.4,329.3 412.7,328.0 411.8,326.6 410.6,324.7 410.5,322.7"/>
<polygon points="206.8,362.1 209.2,360.7 210.1,358.4 212.0,357.5 214.8,357.1 216.3,355.8 217.6,357.7 220.0,356.6 221.3,356.8 223.7,358.4 227.4,358.4 231.1,358.4 235.2,358.2 235.5,359.5 237.4,362.1 239.8,362.7 242.6,365.5 244.4,367.0 247.2,367.1 250.0,367.5 252.8,368.8 254.6,370.3 255.5,372.5 257.4,374.7 257.4,377.7 260.2,379.4 262.0,379.2 266.7,380.7 268.5,382.7 272.2,383.3 276.9,383.6 279.6,385.5 281.5,387.2 284.6,387.9 285.4,392.0 284.8,394.8 282.4,397.5 280.6,400.3 278.2,402.5 277.4,406.8 276.9,411.1 275.9,414.8 274.1,418.5 272.2,420.5 267.6,421.1 263.9,422.9 260.2,426.3 259.6,430.9 257.4,433.7 255.5,436.4 252.8,439.6 250.9,441.1 248.3,442.7 245.4,442.6 241.8,441.4 243.9,444.4 245.0,445.7 243.5,448.5 240.7,449.8 235.2,450.2 234.6,453.1 229.6,454.1 230.5,456.8 229.6,458.7 228.7,461.5 225.0,463.9 227.7,466.1 225.0,468.9 223.5,471.3 222.2,473.7 223.3,475.0 222.9,476.3 225.0,478.7 229.2,479.6 225.9,480.4 223.1,480.9 219.4,480.0 216.6,478.7 213.9,476.3 211.4,474.4 210.5,470.7 210.1,467.0 212.0,464.2 212.9,461.5 213.9,458.7 212.9,455.9 213.5,454.1 213.9,450.3 214.4,447.6 215.7,443.9 217.2,440.2 217.6,435.5 217.9,431.8 218.9,428.1 219.4,424.4 220.0,419.8 220.0,415.1 219.6,412.0 217.6,410.1 213.9,408.1 210.1,405.5 208.7,403.1 207.0,400.3 204.6,395.7 202.7,392.0 200.0,389.2 199.6,386.4 201.2,384.4 201.8,382.3 200.3,380.9 201.2,377.5 202.2,376.2 203.8,375.1 206.4,373.3 206.8,371.0 206.6,367.9 206.4,365.5"/>
<polygon points="16.5,250.2 20.2,251.0 25.8,253.0 30.4,253.9 32.3,254.1 35.6,255.6 33.2,256.9 30.4,258.7 27.6,258.0 23.9,257.1 19.3,256.9 16.5,257.6"/>
<polygon points="230.5,262.8 224.0,262.3 216.6,260.4 206.4,258.9 207.4,256.7 214.8,254.3 209.2,251.1 198.1,248.7 187.0,247.4 183.3,243.7 190.7,241.3 201.8,241.5 209.2,243.4 218.5,246.5 225.9,249.3 235.2,253.9 235.3,255.2 230.5,257.6 228.7,258.7 229.6,261.3"/>
<polygon points="129.5,245.6 133.2,243.4 140.7,243.2 149.9,242.8 155.5,245.0 162.0,248.4 155.5,250.4 146.2,251.1 136.9,249.8 131.4,248.4"/>
<polygon points="117.5,244.8 120.3,240.4 127.7,240.0 136.0,241.9 129.5,245.6 122.1,246.5"/>
<polygon points="201.8,236.9 209.2,232.6 220.3,229.8 235.2,226.1 229.6,224.3 211.1,224.3 183.3,227.1 179.6,229.8 187.0,232.6 185.1,235.4 196.2,236.3"/>
<polygon points="201.8,240.0 183.3,240.0 179.6,238.2 187.0,236.3 200.0,235.9 205.5,238.2"/>
<polygon points="183.3,233.5 174.0,230.8 172.2,228.0 181.4,228.0 187.0,230.8"/>
<polygon points="136.9,239.1 133.2,236.7 146.2,236.1 153.6,238.2 146.2,239.5"/>
<polygon points="162.9,243.7 170.3,245.6 172.2,241.9 164.7,241.9"/>
<polygon points="175.9,244.7 183.3,241.9 174.0,240.6"/>
<polygon points="168.5,238.2 162.9,236.3 170.3,235.4 170.3,237.2"/>
<polygon points="127.7,237.2 124.0,235.4 135.1,234.6 133.2,236.3"/>
<polygon points="155.5,234.5 164.7,233.5 161.0,231.7 153.6,232.6"/>
<polygon points="188.8,260.2 199.0,259.9 198.1,257.6 192.5,255.8 188.8,257.6"/>
<polygon points="269.4,267.3 261.1,265.0 256.5,260.4 253.7,257.6 250.9,254.8 250.4,251.1 255.5,249.3 249.1,247.4 246.3,244.7 242.6,240.0 237.0,237.6 227.7,237.2 218.5,235.4 214.8,233.2 220.3,231.7 231.5,228.9 238.9,226.5 257.4,225.6 272.2,223.7 290.8,223.2 303.7,223.9 313.0,225.6 327.8,227.1 320.4,228.9 315.8,231.7 313.0,235.4 315.8,237.2 311.1,240.0 309.3,243.7 307.4,247.4 301.9,251.1 292.6,252.1 286.1,255.8 279.6,256.7 275.9,258.6 274.1,261.3 271.3,264.1"/>
<polygon points="305.6,256.7 309.3,255.0 319.5,254.8 323.2,256.7 324.8,257.6 322.3,258.9 315.8,260.6 308.4,259.9"/>
<polygon points="370.4,232.6 379.7,229.8 387.1,228.9 400.1,229.5 390.8,232.6 383.4,236.1 376.0,234.8"/>
<polygon points="446.4,245.6 452.0,247.1 456.6,247.1 453.8,243.7 455.7,240.0 464.9,237.6 477.9,235.6 472.4,235.4 459.4,237.4 452.0,240.2 449.2,243.2"/>
<polygon points="437.1,229.8 446.4,228.9 461.2,229.1 464.9,228.0 452.0,226.7 439.0,228.0"/>
<polygon points="524.2,231.7 535.4,232.6 548.3,233.2 542.8,230.8 535.4,227.6 520.5,228.9"/>
<polygon points="603.9,240.0 613.2,242.2 628.0,239.1 618.7,237.2 607.6,237.2"/>
<polygon points="681.0,246.5 683.6,245.6 683.6,246.7"/>
<polygon points="16.5,245.6 21.1,246.1 16.5,246.7"/>
<polygon points="441.4,400.3 442.7,403.1 443.6,406.4 442.7,408.7 441.8,410.5 440.8,414.2 439.7,417.9 438.6,421.6 437.3,424.2 434.4,425.3 432.3,424.4 431.0,421.6 430.3,418.8 431.2,417.0 432.3,414.2 431.6,411.4 432.1,408.7 433.8,407.7 436.2,407.2 438.3,405.1 439.0,403.6 440.5,401.8"/>
<polygon points="339.5,285.2 342.6,284.7 344.5,284.1 347.3,284.1 350.6,283.9 352.6,283.2 351.7,282.5 353.2,280.8 353.2,280.0 350.6,279.9 350.2,278.9 349.7,277.8 348.0,276.9 347.1,275.0 346.0,274.3 345.4,273.4 346.5,271.5 344.1,271.2 342.6,271.0 344.3,269.5 340.8,269.5 340.4,271.0 339.3,271.5 339.7,273.4 339.5,274.3 341.0,274.7 340.6,276.2 341.5,276.5 343.7,276.3 343.4,277.3 344.5,278.2 344.5,279.1 341.7,279.1 342.3,280.0 342.3,281.2 340.6,282.1 342.3,282.5 343.9,282.8 342.1,283.2 340.4,284.1"/>
<polygon points="338.6,279.1 338.9,278.0 339.9,276.9 338.6,275.8 336.5,275.4 334.3,276.2 333.9,277.6 331.7,277.6 331.5,278.9 332.4,279.9 331.7,281.5 331.0,282.1 332.4,282.5 334.9,282.1 337.1,281.5 338.2,281.3"/>
<polygon points="590.6,316.0 591.9,315.3 593.7,315.8 594.5,317.3 593.5,319.9 592.1,320.6 591.3,319.9 591.5,317.9 590.4,317.3"/>
<polygon points="595.6,316.6 596.9,317.3 598.7,316.4 599.7,315.1 598.7,314.5 596.5,314.9"/>
<polygon points="592.6,315.3 594.7,315.3 597.4,314.3 599.3,313.8 600.6,314.5 601.7,316.0 603.5,314.5 603.9,314.0 606.3,314.0 607.3,313.8 608.0,312.7 609.1,313.4 610.0,313.0 611.1,311.4 611.1,308.6 611.3,307.1 612.4,306.0 613.2,304.7 612.6,303.0 612.1,301.4 610.0,301.7 609.3,302.8 609.5,304.3 609.1,305.8 608.4,306.9 607.3,308.0 604.5,309.7 603.5,309.0 603.4,310.6 602.1,311.9 601.1,312.1 598.7,312.3 596.7,312.1 596.0,312.5 593.9,313.8 592.8,314.3"/>
<polygon points="609.5,301.2 611.7,300.6 612.6,299.1 615.6,300.2 618.4,298.6 619.7,297.8 619.1,296.2 616.9,296.2 614.1,294.1 612.6,293.9 612.4,295.8 611.9,297.8 610.2,297.8 609.1,299.9"/>
<polygon points="613.2,292.8 616.0,291.9 615.0,290.1 614.5,287.3 615.6,285.4 615.4,282.6 616.1,280.2 615.0,277.5 613.7,277.6 613.6,279.1 612.6,281.7 613.0,285.4 613.0,289.1 613.0,291.4"/>
<polygon points="574.3,331.7 576.1,331.6 575.2,334.5 574.1,337.3 572.8,335.8 572.6,334.0 573.5,332.5"/>
<polygon points="551.5,342.3 553.5,340.8 555.7,341.2 554.8,343.4 553.0,344.3 551.5,343.8"/>
<polygon points="498.1,359.9 498.9,359.9 500.5,362.1 501.8,364.5 501.4,366.0 499.4,367.1 498.3,365.7 497.9,363.3"/>
<polygon points="573.5,343.8 575.9,344.0 576.5,346.6 575.4,348.6 575.4,350.8 577.2,352.1 579.8,354.0 578.9,354.4 576.1,352.7 574.1,351.8 573.5,351.2 572.6,348.8 573.0,347.1"/>
<polygon points="576.1,365.1 578.9,363.6 580.4,362.3 582.6,360.1 584.1,362.3 584.5,365.1 582.6,367.3 580.2,366.6 578.0,364.5"/>
<polygon points="580.2,354.9 582.8,355.7 582.2,357.7 581.3,359.2 579.8,357.7"/>
<polygon points="575.9,356.0 578.3,357.7 578.9,359.5 578.3,361.2 577.0,359.9 576.1,358.4"/>
<polygon points="567.2,362.5 571.5,358.6 571.9,357.3 570.0,359.5"/>
<polygon points="552.0,375.3 553.3,374.4 555.7,375.1 556.7,373.4 559.4,372.1 561.3,369.7 563.7,368.8 565.0,367.0 566.9,365.1 568.2,366.6 570.9,368.3 569.3,369.7 568.2,371.6 568.7,373.8 570.6,376.2 568.5,376.6 567.8,379.0 566.5,380.9 565.9,382.7 565.4,385.1 562.2,385.1 559.4,384.0 557.0,383.6 554.3,383.6 553.9,381.4 552.6,379.6 552.0,377.3"/>
<polygon points="526.6,367.7 530.7,368.4 532.2,370.1 534.8,372.1 536.8,374.4 538.5,375.3 540.9,377.0 542.4,379.9 543.7,381.4 546.3,383.4 546.5,385.5 546.1,388.8 543.9,389.0 541.8,387.0 539.6,385.5 537.2,382.5 535.9,379.9 533.9,377.5 532.8,374.7 531.1,373.4 529.4,371.2 527.6,369.7"/>
<polygon points="545.0,390.7 546.5,389.0 549.3,389.2 551.1,390.1 554.8,390.7 557.2,390.5 558.9,390.9 562.2,392.5 559.4,393.5 555.7,393.3 551.1,392.5 547.4,391.8"/>
<polygon points="562.2,393.1 566.9,393.5 570.6,393.5 574.3,393.5 578.0,393.5 578.0,394.2 574.3,394.6 570.6,394.4 566.9,394.8 562.2,394.4"/>
<polygon points="579.8,396.6 582.6,394.2 585.9,393.6 581.7,395.9 579.8,397.3"/>
<polygon points="571.3,388.3 570.6,383.6 570.2,382.7 571.3,380.3 572.0,378.1 572.8,376.6 575.2,376.0 578.0,376.4 580.8,376.2 582.1,375.1 580.8,377.3 578.0,377.3 574.6,377.3 573.0,378.6 574.3,379.9 577.0,379.6 578.7,379.7 577.0,381.0 575.2,381.8 576.7,384.2 577.6,386.4 576.1,387.0 574.6,385.7 573.7,383.3 573.2,384.6 573.2,388.5"/>
<polygon points="586.3,374.7 588.2,375.3 587.2,377.1 588.7,378.1 587.2,379.6 586.3,377.1"/>
<polygon points="587.2,383.6 591.9,384.0 592.4,385.1 588.2,384.7"/>
<polygon points="583.5,384.0 585.8,384.2 585.4,385.1 583.9,384.9"/>
<polygon points="592.8,380.5 595.6,378.8 598.4,379.7 600.2,384.2 602.1,382.2 604.8,380.9 607.6,381.8 611.3,382.9 614.1,384.0 617.8,385.3 620.0,387.0 620.6,388.5 623.4,389.2 623.9,390.5 622.1,392.0 624.3,393.3 625.2,394.8 627.1,395.9 628.9,397.2 627.6,397.5 624.3,396.8 622.4,395.7 620.6,392.9 617.8,392.2 616.0,393.5 615.0,394.8 611.3,394.9 609.5,392.9 607.3,393.3 605.6,392.0 606.7,390.1 605.8,388.3 602.1,386.4 599.3,385.1 597.4,385.5 596.1,384.7 594.7,383.3 596.5,382.5 593.7,380.9"/>
<polygon points="625.2,388.3 628.0,387.3 630.8,386.4 632.1,386.0 631.5,387.3 628.9,389.6 626.2,389.4"/>
<polygon points="640.6,390.7 642.1,391.8 641.4,392.0"/>
<polygon points="644.3,392.9 646.2,394.0 645.2,394.2"/>
<polygon points="647.7,395.1 649.1,396.2 648.2,396.4"/>
<polygon points="561.3,418.5 564.1,416.8 566.9,416.2 570.2,415.7 573.0,414.6 575.2,412.5 576.7,410.1 578.0,408.5 579.5,408.1 580.8,406.4 582.6,404.9 584.5,403.8 586.3,404.4 587.6,405.7 590.0,405.7 590.6,403.1 591.9,401.4 593.2,400.7 595.6,400.3 596.0,399.0 597.4,399.9 599.3,400.3 601.1,400.7 603.4,400.3 603.0,402.5 601.1,405.1 603.0,406.8 605.4,408.3 607.6,410.1 610.4,410.7 612.1,408.5 612.4,405.9 612.3,403.1 612.8,401.2 613.9,398.1 615.0,399.9 616.0,403.1 617.3,404.8 619.3,405.7 619.5,408.1 620.6,410.5 621.2,413.3 623.9,414.8 626.0,416.1 627.1,419.4 629.5,420.0 630.4,422.5 633.6,425.3 634.5,430.3 633.8,433.7 633.2,436.4 631.7,438.9 630.2,440.9 629.3,442.9 628.0,445.7 627.8,447.6 624.3,448.3 621.2,450.5 618.7,449.4 618.0,448.9 616.0,450.0 613.2,449.2 610.6,448.5 608.9,446.6 608.6,444.8 606.7,444.0 606.0,441.4 605.4,438.9 604.3,440.5 602.1,442.4 601.3,442.6 600.6,441.1 598.7,438.9 596.5,437.6 593.2,436.4 589.1,436.6 585.4,437.7 581.7,438.7 579.8,439.2 578.9,440.9 576.1,440.9 572.4,441.1 569.6,442.6 566.9,442.9 564.8,442.0 563.2,441.6 564.3,439.8 564.4,437.4 563.2,433.7 563.0,431.8 561.7,430.1 560.4,427.4 560.2,425.3 560.9,423.5 560.4,421.6 560.9,419.8"/>
<polygon points="618.0,453.5 621.5,454.2 624.9,453.9 624.7,456.3 623.9,458.1 622.3,458.9 620.6,458.7 619.1,456.5 618.2,454.6"/>
<polygon points="670.1,441.8 672.5,443.3 674.0,445.7 675.4,447.0 676.2,447.7 679.0,448.3 680.8,447.9 679.9,450.3 678.0,450.9 677.7,452.2 674.9,455.2 673.6,454.6 674.1,452.2 672.1,450.7 673.4,450.0 674.0,448.1 673.0,445.7 670.6,443.3"/>
<polygon points="670.1,453.1 673.0,454.1 672.9,455.5 671.0,457.8 670.1,459.2 667.3,460.5 666.2,463.1 663.8,464.4 661.4,464.2 658.6,463.3 659.0,461.8 661.4,459.6 666.0,457.8 667.8,455.3 669.0,453.9"/>
<polygon points="192.7,337.5 194.4,336.0 198.1,335.3 201.8,335.5 206.4,337.7 209.8,339.0 212.6,340.6 210.1,341.2 206.1,341.2 207.0,339.7 204.6,338.0 200.9,337.3 198.1,336.6 195.3,337.3"/>
<polygon points="212.2,341.4 215.1,341.2 218.5,341.2 222.2,342.5 223.3,343.6 220.3,344.3 217.7,345.5 215.1,344.5 212.2,344.0 215.1,343.6"/>
<polygon points="205.0,344.0 208.7,344.3 207.7,344.9 205.5,344.5"/>
<polygon points="225.5,343.8 228.5,344.0 228.3,344.7 225.5,344.7"/>
<polygon points="240.0,289.9 246.3,286.2 247.2,282.6 244.8,282.8 241.6,287.3 240.0,288.2 244.4,289.9 247.2,291.0 250.7,291.7 252.2,289.9 250.9,286.9 247.2,285.8 245.9,286.3"/>
<polygon points="121.6,288.4 117.5,287.5 112.3,283.9 114.7,284.3 118.8,286.2"/>
<polygon points="105.4,278.0 107.3,278.9 106.4,281.2 103.6,278.9"/>
<polygon points="373.0,307.5 375.1,307.3 379.0,307.1 378.0,310.1 376.5,309.5 373.6,308.4"/>
<polygon points="365.6,302.3 367.8,301.9 368.2,304.0 367.7,305.6 366.0,306.0 365.6,304.5"/>
<polygon points="366.0,300.2 367.5,298.4 367.7,300.2 367.1,301.4 366.4,301.0"/>
<polygon points="393.6,312.7 396.4,312.5 398.8,312.8 396.0,313.4 393.8,312.8"/>
<polygon points="409.9,313.6 411.2,312.7 414.0,312.1 412.9,313.2 411.2,314.0"/>
<polygon points="370.4,275.6 373.2,274.3 373.2,275.8 371.4,276.2"/>
</clipPath>
<g clip-path="url(#lc)"><g filter="url(#spk)">
<path d="M566.2,301.4 570.9,303.8 571.3,305.2 570.5,306.9 571.2,307.5 577.2,307.8 577.6,309.9 574.3,312.9 576.3,318.8 575.9,320.2 572.7,322.6 562.2,322.7 556.6,320.1 554.1,314.3 555.9,309.3 554.8,303.9 556.1,302.0 566.2,301.4Z" fill="#fff" fill-rule="evenodd" fill-opacity="0.993"/>
<path d="M500.8,323.7 516.4,328.3 521.3,330.3 522.2,331.4 522.2,335.6 521.6,336.7 518.3,338.9 512.5,339.9 511.4,342.3 507.6,344.2 504.0,347.9 500.8,349.8 499.4,358.4 496.7,362.6 493.9,364.4 492.5,363.9 490.3,361.2 484.7,347.0 483.5,340.4 480.8,340.6 477.2,336.7 479.4,332.5 483.3,330.5 484.6,328.5 486.5,317.5 487.4,316.4 488.7,316.3 500.8,323.7Z" fill="#fff" fill-rule="evenodd" fill-opacity="0.971"/>
<path d="M182.0,293.1 187.5,295.9 191.7,296.7 196.8,296.2 202.1,298.2 204.3,304.4 199.7,309.2 192.9,311.5 185.5,313.0 173.6,310.2 168.3,307.1 164.2,301.9 164.9,292.7 166.4,291.2 175.1,291.2 182.0,293.1Z" fill="#fff" fill-rule="evenodd" fill-opacity="0.955"/>
<path d="M237.4,430.2 242.9,434.5 246.1,441.1 245.5,446.2 242.7,450.9 234.9,451.6 229.2,448.5 227.4,441.1 228.3,435.4 228.3,429.8 229.5,429.2 237.4,430.2Z" fill="#fff" fill-rule="evenodd" fill-opacity="0.930"/>
<path d="M364.7,285.8 365.6,287.3 364.5,290.9 361.6,293.8 359.5,297.8 352.7,299.5 346.6,298.8 346.0,297.6 346.1,293.8 340.2,290.3 341.3,286.5 345.1,286.3 346.1,284.4 354.8,281.9 364.7,285.8Z" fill="#fff" fill-rule="evenodd" fill-opacity="0.892"/>
<path d="M398.6,286.6 405.3,288.5 406.4,289.9 406.3,295.2 403.1,299.1 394.4,299.5 388.4,298.1 384.7,295.5 382.2,286.9 382.5,285.3 383.8,284.7 398.6,286.6Z" fill="#fff" fill-rule="evenodd" fill-opacity="0.879"/>
<path d="M492.2,318.1 492.0,318.3 488.7,316.3 487.4,316.4 486.5,317.5 484.8,326.9 482.4,329.2 480.2,332.1 479.4,332.5 478.3,334.5 478.2,334.8 476.8,335.3 473.6,332.9 473.1,331.5 474.5,327.3 477.3,323.5 480.0,312.9 481.4,311.6 488.8,312.1 492.2,318.1Z" fill="#fff" fill-rule="evenodd" fill-opacity="0.879"/>
<path d="M578.7,285.1 584.5,282.8 589.3,285.1 590.7,291.6 587.6,296.6 582.9,301.4 577.2,305.6 571.8,304.6 570.7,303.0 570.9,298.6 573.7,294.8 578.7,285.1Z" fill="#fff" fill-rule="evenodd" fill-opacity="0.879"/>
<path d="M366.0,350.9 373.6,352.7 377.4,356.8 377.6,358.2 370.9,362.1 362.5,362.1 355.2,358.7 354.9,352.1 355.4,350.9 356.6,350.5 366.0,350.9Z" fill="#fff" fill-rule="evenodd" fill-opacity="0.867"/>
<path d="M176.3,291.5 175.1,291.2 166.4,291.2 164.9,292.7 164.3,300.0 161.3,295.1 160.9,286.8 162.4,285.1 172.1,285.3 176.3,291.5Z" fill="#fff" fill-rule="evenodd" fill-opacity="0.861"/>
<path d="M203.8,296.5 204.4,297.6 203.7,299.2 202.6,299.7 202.1,298.2 196.8,296.2 195.1,296.4 195.1,296.3 199.8,294.0 203.8,296.5Z" fill="#fff" fill-rule="evenodd" fill-opacity="0.861"/>
<path d="M163.2,277.3 169.4,279.4 171.9,283.9 171.5,285.3 162.4,285.1 160.9,286.8 160.9,288.5 139.4,288.9 136.5,285.4 134.5,281.4 134.9,277.7 136.2,276.4 144.3,275.4 163.2,277.3ZM156.4,284.7 156.4,282.5 151.8,280.6 142.5,280.6 142.9,284.7 149.9,285.6 156.4,284.7Z" fill="#fff" fill-rule="evenodd" fill-opacity="0.846"/>
<path d="M187.6,315.6 182.9,321.7 181.4,321.5 178.0,318.4 178.2,311.3 185.5,313.0 187.2,312.6 187.6,315.6Z" fill="#fff" fill-rule="evenodd" fill-opacity="0.846"/>
<path d="M131.1,309.8 131.6,313.2 131.0,314.5 129.7,314.9 126.4,313.8 122.5,308.3 121.4,303.8 122.6,301.8 126.1,302.2 131.1,309.8Z" fill="#fff" fill-rule="evenodd" fill-opacity="0.846"/>
<path d="M448.3,274.9 456.0,276.3 456.4,282.8 455.2,284.2 446.8,285.2 440.2,287.7 437.9,292.3 437.8,298.9 436.2,300.1 427.5,299.1 421.7,297.1 419.1,295.5 414.5,295.8 406.3,293.1 406.4,289.9 405.3,288.5 398.6,286.6 392.8,285.8 391.6,279.2 392.0,277.8 393.1,277.3 448.3,274.9Z" fill="#fff" fill-rule="evenodd" fill-opacity="0.846"/>
<path d="M537.9,341.3 542.9,344.3 546.2,347.9 546.0,353.1 541.2,356.6 534.4,355.4 531.9,350.8 530.9,342.1 531.5,340.7 532.9,340.3 537.9,341.3Z" fill="#fff" fill-rule="evenodd" fill-opacity="0.846"/>
<path d="M506.3,276.5 507.3,277.5 508.2,283.3 506.8,284.3 498.6,284.2 494.9,277.8 495.0,276.3 496.3,275.4 506.3,276.5Z" fill="#fff" fill-rule="evenodd" fill-opacity="0.838"/>
<path d="M395.2,276.7 395.3,277.2 393.1,277.3 392.0,277.8 391.6,279.2 392.8,285.8 383.8,284.7 382.5,285.3 382.2,286.8 377.2,285.1 376.2,283.7 376.2,277.1 377.6,275.4 394.2,275.5 395.2,276.7Z" fill="#fff" fill-rule="evenodd" fill-opacity="0.830"/>
<path d="M552.6,320.6 552.9,321.9 549.1,326.6 543.4,326.7 539.8,323.2 539.3,318.9 540.5,317.2 548.7,316.6 552.6,320.6Z" fill="#fff" fill-rule="evenodd" fill-opacity="0.830"/>
<path d="M374.3,273.1 374.9,274.6 372.0,277.7 367.3,278.2 363.9,276.2 363.2,272.7 364.2,270.9 369.8,269.9 374.3,273.1Z" fill="#fff" fill-rule="evenodd" fill-opacity="0.815"/>
<path d="M546.6,351.4 547.9,352.1 549.0,358.0 545.6,362.7 544.4,363.0 543.3,362.4 540.6,356.5 541.2,356.6 546.0,353.1 546.1,351.4 546.6,351.4Z" fill="#fff" fill-rule="evenodd" fill-opacity="0.798"/>
<path d="M568.9,429.6 573.5,434.8 575.0,439.9 574.6,441.2 570.1,443.6 564.9,443.7 562.7,439.7 561.1,429.3 561.6,427.9 562.9,427.4 568.9,429.6Z" fill="#fff" fill-rule="evenodd" fill-opacity="0.798"/>
<path d="M376.8,276.3 376.2,277.1 376.2,283.7 377.2,285.1 377.9,285.3 364.7,290.2 365.6,287.3 364.7,285.8 356.7,282.7 356.5,279.5 357.7,277.9 364.5,276.6 367.3,278.2 372.0,277.7 373.6,275.9 376.8,276.3Z" fill="#fff" fill-rule="evenodd" fill-opacity="0.790"/>
<path d="M380.1,293.5 375.2,291.5 372.0,289.4 371.8,287.6 377.9,285.3 382.2,286.8 382.2,286.9 384.5,294.8 380.1,293.5Z" fill="#fff" fill-rule="evenodd" fill-opacity="0.790"/>
<path d="M373.5,291.6 374.8,292.9 374.8,296.9 373.4,298.2 366.4,297.6 361.9,294.8 361.6,293.9 361.6,293.8 363.6,291.8 373.5,291.6Z" fill="#fff" fill-rule="evenodd" fill-opacity="0.790"/>
<path d="M529.3,333.8 530.4,334.7 531.0,342.0 530.9,342.1 531.0,343.2 529.5,349.0 528.6,350.0 524.8,350.1 523.6,349.1 523.5,342.1 522.0,336.0 522.2,335.6 522.2,333.4 523.3,332.9 529.3,333.8Z" fill="#fff" fill-rule="evenodd" fill-opacity="0.790"/>
<path d="M548.3,308.8 555.7,309.7 554.1,314.3 555.1,316.6 553.9,316.7 548.8,316.7 548.7,316.6 546.8,316.7 546.3,316.7 540.9,315.5 538.5,311.4 538.5,309.8 539.8,309.0 548.3,308.8Z" fill="#fff" fill-rule="evenodd" fill-opacity="0.790"/>
<path d="M616.8,440.2 620.2,438.9 624.6,429.4 625.8,424.3 627.5,423.7 630.4,425.5 631.5,430.4 625.9,444.5 621.3,447.2 617.3,446.4 604.9,440.6 604.1,438.9 605.2,437.6 608.9,436.7 612.1,438.6 616.8,440.2Z" fill="#fff" fill-rule="evenodd" fill-opacity="0.781"/>
<path d="M403.5,300.2 402.4,301.3 396.7,302.3 390.2,301.8 385.7,299.3 385.0,295.7 388.4,298.1 394.4,299.5 403.1,299.1 403.2,298.9 403.5,300.2Z" fill="#fff" fill-rule="evenodd" fill-opacity="0.770"/>
<path d="M550.0,339.5 548.6,343.1 545.5,343.6 544.4,343.1 543.9,338.2 545.4,336.6 549.5,338.0 550.0,339.5Z" fill="#fff" fill-rule="evenodd" fill-opacity="0.770"/>
<path d="M561.8,390.4 563.0,392.1 562.0,393.5 557.5,394.9 547.7,393.2 545.2,390.7 545.0,388.9 546.7,387.9 561.8,390.4Z" fill="#fff" fill-rule="evenodd" fill-opacity="0.770"/>
<path d="M424.7,351.0 426.6,356.9 429.9,361.3 424.9,368.4 418.9,368.5 415.3,364.0 414.2,357.6 415.1,350.4 416.9,349.0 423.7,350.2 424.7,351.0Z" fill="#fff" fill-rule="evenodd" fill-opacity="0.770"/>
<path d="M176.3,313.2 171.4,317.7 163.7,318.6 157.3,316.4 153.8,308.8 154.2,305.8 159.2,305.8 159.2,297.3 163.2,298.1 164.3,300.0 164.2,301.9 168.3,307.1 173.6,310.2 175.9,310.7 176.3,313.2Z" fill="#fff" fill-rule="evenodd" fill-opacity="0.752"/>
<path d="M236.9,406.3 237.7,407.6 237.6,413.1 236.3,414.0 230.7,413.8 229.9,412.8 229.1,406.8 230.2,406.1 236.9,406.3Z" fill="#fff" fill-rule="evenodd" fill-opacity="0.752"/>
<path d="M347.9,274.3 354.6,279.8 354.2,282.1 346.1,284.4 345.2,286.0 342.8,286.0 341.9,284.4 342.8,278.9 340.2,276.1 341.2,274.7 347.9,274.3Z" fill="#fff" fill-rule="evenodd" fill-opacity="0.752"/>
<path d="M470.5,272.6 496.5,275.4 506.4,275.4 507.9,277.1 507.7,280.0 507.3,277.5 506.3,276.5 496.3,275.4 495.0,276.3 494.9,277.8 498.6,284.2 506.8,284.3 507.3,283.9 506.0,285.2 496.4,286.2 476.1,286.2 464.9,287.1 457.0,286.1 454.4,284.3 455.2,284.2 456.4,282.8 456.0,276.3 453.3,275.8 454.1,274.6 460.9,272.7 470.5,272.6Z" fill="#fff" fill-rule="evenodd" fill-opacity="0.752"/>
<path d="M491.3,301.1 491.6,302.4 489.6,305.5 482.3,305.2 480.9,303.8 481.9,300.6 483.4,299.5 490.2,300.4 491.3,301.1Z" fill="#fff" fill-rule="evenodd" fill-opacity="0.752"/>
<path d="M410.1,320.0 409.0,325.2 412.3,332.7 410.9,334.6 409.0,334.1 405.8,328.2 405.1,320.4 406.6,319.0 409.1,319.0 410.1,320.0Z" fill="#fff" fill-rule="evenodd" fill-opacity="0.752"/>
<path d="M525.9,325.5 527.6,326.5 527.7,329.3 526.7,330.5 522.2,331.4 522.2,331.4 521.3,330.3 516.5,328.3 517.1,327.4 525.9,325.5Z" fill="#fff" fill-rule="evenodd" fill-opacity="0.752"/>
<path d="M502.3,361.1 502.7,365.1 502.2,366.3 500.7,366.7 497.1,365.3 496.8,362.4 499.0,359.1 502.3,361.1Z" fill="#fff" fill-rule="evenodd" fill-opacity="0.752"/>
<path d="M416.8,374.8 421.8,377.1 421.2,384.1 417.8,390.9 407.8,389.8 402.4,385.5 403.0,371.0 404.4,369.4 411.7,369.4 416.8,374.8Z" fill="#fff" fill-rule="evenodd" fill-opacity="0.752"/>
<path d="M389.2,439.0 389.5,440.9 387.2,443.5 385.4,443.7 382.5,441.9 382.3,437.4 383.0,436.0 384.6,435.8 389.2,439.0Z" fill="#fff" fill-rule="evenodd" fill-opacity="0.752"/>
<path d="M608.6,442.3 613.4,444.6 614.5,445.6 614.8,447.1 613.7,448.2 609.1,449.2 606.1,444.6 606.0,443.3 606.8,442.4 608.6,442.3Z" fill="#fff" fill-rule="evenodd" fill-opacity="0.752"/>
<path d="M604.8,438.2 604.1,438.9 604.9,440.6 606.5,441.4 606.5,442.3 605.5,443.5 601.7,444.2 600.7,443.5 599.6,439.5 600.5,438.6 604.8,438.2Z" fill="#fff" fill-rule="evenodd" fill-opacity="0.752"/>
<path d="M210.3,296.2 211.8,301.2 210.4,307.0 202.8,308.4 201.0,307.9 204.3,304.4 202.6,299.7 203.7,299.2 204.4,297.6 203.8,296.5 199.9,294.0 200.0,293.9 210.3,296.2ZM198.8,294.4 199.1,294.3 198.8,294.5 198.8,294.4Z" fill="#fff" fill-rule="evenodd" fill-opacity="0.734"/>
<path d="M399.6,270.9 400.6,271.7 402.6,276.7 402.4,276.9 395.3,277.2 395.2,276.7 394.2,275.5 387.6,275.5 387.3,271.5 387.8,270.3 389.0,269.9 399.6,270.9Z" fill="#fff" fill-rule="evenodd" fill-opacity="0.734"/>
<path d="M426.2,302.3 430.9,305.5 431.4,307.0 430.7,308.1 425.4,311.2 410.9,311.2 405.2,310.2 399.1,308.1 397.7,302.1 402.4,301.3 403.5,300.2 403.5,299.9 426.2,302.3Z" fill="#fff" fill-rule="evenodd" fill-opacity="0.723"/>
<path d="M570.1,325.3 570.3,326.7 565.6,331.4 557.1,331.5 553.3,325.9 553.1,321.6 554.6,319.9 556.5,319.9 556.6,320.1 562.2,322.7 567.8,322.7 570.1,325.3Z" fill="#fff" fill-rule="evenodd" fill-opacity="0.723"/>
<path d="M414.3,347.7 416.0,349.7 415.1,350.4 414.2,357.6 414.2,357.7 413.5,358.4 405.3,357.5 404.1,356.5 402.3,348.6 403.5,347.7 414.3,347.7Z" fill="#fff" fill-rule="evenodd" fill-opacity="0.723"/>
<path d="M219.2,291.9 218.7,293.1 214.9,296.4 207.4,295.2 206.6,293.5 207.8,292.2 213.9,290.2 218.0,290.3 219.2,291.9Z" fill="#fff" fill-rule="evenodd" fill-opacity="0.714"/>
<path d="M150.9,326.7 152.5,331.5 152.1,332.9 150.6,333.4 146.1,332.1 144.6,326.5 145.0,325.0 146.3,324.5 150.9,326.7Z" fill="#fff" fill-rule="evenodd" fill-opacity="0.714"/>
<path d="M219.2,449.8 218.2,451.0 214.2,450.1 213.2,449.1 215.0,442.4 218.9,439.5 221.0,440.5 219.2,449.8Z" fill="#fff" fill-rule="evenodd" fill-opacity="0.714"/>
<path d="M376.2,266.5 381.2,268.9 381.1,270.5 377.7,274.8 374.5,275.0 374.9,274.6 374.3,273.1 370.8,270.6 370.6,269.8 371.5,268.2 376.2,266.5Z" fill="#fff" fill-rule="evenodd" fill-opacity="0.714"/>
<path d="M385.0,302.3 385.6,303.4 385.3,304.6 383.9,305.2 379.3,304.1 371.4,300.7 370.7,298.9 371.3,298.0 373.4,298.2 374.8,296.9 374.8,295.4 374.9,295.4 378.8,298.9 385.0,302.3Z" fill="#fff" fill-rule="evenodd" fill-opacity="0.714"/>
<path d="M410.1,272.8 412.5,276.4 402.4,276.9 402.6,276.7 401.0,272.7 410.1,272.8Z" fill="#fff" fill-rule="evenodd" fill-opacity="0.714"/>
<path d="M438.9,269.3 446.9,270.9 448.1,272.5 447.4,273.8 445.3,275.0 419.0,276.1 414.0,272.9 413.3,271.2 414.7,269.9 438.9,269.3Z" fill="#fff" fill-rule="evenodd" fill-opacity="0.714"/>
<path d="M339.9,310.3 346.2,311.1 357.1,308.4 366.6,307.8 371.2,308.9 372.1,310.4 371.0,313.6 369.9,314.5 364.6,313.4 355.8,313.0 341.4,317.0 334.3,319.9 332.7,318.8 332.0,311.3 333.1,310.6 339.9,310.3Z" fill="#fff" fill-rule="evenodd" fill-opacity="0.714"/>
<path d="M574.0,383.3 574.6,384.6 574.2,389.3 572.9,389.9 570.4,389.2 569.8,385.5 570.3,384.3 572.2,383.1 574.0,383.3Z" fill="#fff" fill-rule="evenodd" fill-opacity="0.714"/>
<path d="M576.9,345.8 575.7,351.6 573.0,351.9 571.8,351.2 571.3,345.7 572.6,344.0 576.5,344.6 576.9,345.8Z" fill="#fff" fill-rule="evenodd" fill-opacity="0.714"/>
<path d="M346.0,296.7 346.0,297.6 346.6,298.8 352.7,299.5 355.3,298.8 356.3,300.3 355.8,301.5 352.3,304.1 350.4,307.8 347.3,310.9 347.1,310.9 345.5,311.0 339.9,310.3 337.3,310.4 335.6,307.4 335.4,302.7 333.0,299.4 332.8,297.7 334.0,296.8 346.0,296.7Z" fill="#fff" fill-rule="evenodd" fill-opacity="0.705"/>
<path d="M251.8,412.5 260.6,415.1 263.6,421.1 260.6,427.2 256.4,433.2 251.6,435.3 246.8,431.9 247.3,425.6 245.6,422.2 243.9,413.3 245.0,412.6 251.8,412.5Z" fill="#fff" fill-rule="evenodd" fill-opacity="0.697"/>
<path d="M145.1,293.9 143.7,300.8 142.4,301.4 133.1,300.6 129.3,295.9 125.2,292.4 125.4,291.0 128.4,287.9 136.9,287.5 138.4,287.7 139.4,288.9 144.5,288.8 145.1,293.9Z" fill="#fff" fill-rule="evenodd" fill-opacity="0.694"/>
<path d="M168.7,338.9 169.1,340.5 163.3,344.5 156.9,343.5 155.7,342.3 155.7,337.3 156.7,335.8 163.2,334.7 168.7,338.9Z" fill="#fff" fill-rule="evenodd" fill-opacity="0.694"/>
<path d="M430.2,308.8 433.9,314.2 434.1,315.6 432.2,316.7 425.8,314.0 420.2,314.8 417.9,316.6 416.6,316.7 415.5,315.3 415.5,311.2 425.4,311.2 429.6,308.7 430.2,308.8Z" fill="#fff" fill-rule="evenodd" fill-opacity="0.694"/>
<path d="M408.2,425.3 407.9,431.9 400.3,433.5 399.0,433.1 394.7,428.4 396.7,422.9 398.4,421.8 407.6,424.1 408.2,425.3Z" fill="#fff" fill-rule="evenodd" fill-opacity="0.694"/>
<path d="M170.7,325.4 169.1,326.0 164.1,324.0 158.1,320.1 155.8,313.7 155.8,313.2 157.3,316.4 163.7,318.6 171.4,317.7 171.8,317.3 170.7,325.4Z" fill="#fff" fill-rule="evenodd" fill-opacity="0.676"/>
<path d="M210.9,338.5 210.7,341.1 208.8,341.9 198.2,338.2 197.4,336.5 198.6,334.5 200.4,333.8 210.1,337.4 210.9,338.5Z" fill="#fff" fill-rule="evenodd" fill-opacity="0.676"/>
<path d="M221.7,340.7 222.9,342.3 220.9,345.5 215.6,345.5 214.2,344.4 214.5,340.8 215.8,340.3 221.7,340.7Z" fill="#fff" fill-rule="evenodd" fill-opacity="0.676"/>
<path d="M233.8,417.9 234.0,429.0 233.7,429.7 229.5,429.2 228.3,429.8 228.3,430.7 227.6,430.7 226.4,430.0 226.1,418.8 227.6,417.2 232.5,417.2 233.8,417.9Z" fill="#fff" fill-rule="evenodd" fill-opacity="0.676"/>
<path d="M333.9,310.2 332.4,309.6 331.2,306.0 331.7,300.1 332.9,299.0 333.0,299.4 335.4,302.7 335.6,307.4 336.7,309.4 333.9,310.2Z" fill="#fff" fill-rule="evenodd" fill-opacity="0.676"/>
<path d="M437.0,316.4 439.5,319.8 439.6,321.3 438.0,322.3 433.7,321.2 430.3,317.0 430.1,315.8 432.2,316.7 434.1,315.6 434.1,315.3 437.0,316.4Z" fill="#fff" fill-rule="evenodd" fill-opacity="0.676"/>
<path d="M440.1,305.1 445.1,308.7 455.8,306.9 461.2,309.0 462.0,310.6 460.9,312.0 454.3,313.9 444.9,314.9 438.9,316.7 434.8,314.1 432.9,305.9 433.9,305.1 440.1,305.1Z" fill="#fff" fill-rule="evenodd" fill-opacity="0.676"/>
<path d="M554.4,329.2 559.0,334.5 559.2,335.9 558.3,337.0 552.2,339.0 549.7,338.5 549.5,338.0 545.8,336.7 545.1,329.9 546.2,329.2 554.4,329.2Z" fill="#fff" fill-rule="evenodd" fill-opacity="0.676"/>
<path d="M570.3,328.3 572.1,329.3 569.8,334.9 562.7,338.0 561.1,337.6 559.0,334.9 559.0,334.5 558.1,333.5 557.8,332.3 558.6,331.5 565.6,331.4 567.4,329.6 570.3,328.3Z" fill="#fff" fill-rule="evenodd" fill-opacity="0.676"/>
<path d="M542.6,328.4 543.5,329.7 543.3,335.3 542.1,336.2 535.5,336.9 534.7,335.9 534.0,328.9 535.0,328.3 542.6,328.4Z" fill="#fff" fill-rule="evenodd" fill-opacity="0.676"/>
<path d="M589.2,306.4 589.8,307.7 589.5,313.7 584.8,315.4 583.4,315.1 581.9,307.0 582.3,305.6 583.4,305.1 589.2,306.4Z" fill="#fff" fill-rule="evenodd" fill-opacity="0.676"/>
<path d="M327.8,347.7 357.6,349.5 374.3,351.4 378.3,354.1 383.5,353.2 391.5,354.3 392.5,355.5 392.5,359.7 391.3,361.2 380.0,363.0 372.3,362.2 364.9,363.1 329.5,359.4 319.5,356.3 317.0,349.6 318.1,348.7 327.8,347.7ZM362.5,362.1 370.9,362.1 377.6,358.2 377.4,356.8 373.6,352.7 366.0,350.9 356.6,350.5 355.4,350.9 354.9,352.1 355.2,358.7 362.5,362.1Z" fill="#fff" fill-rule="evenodd" fill-opacity="0.676"/>
<path d="M417.2,397.5 418.4,407.7 417.7,409.1 411.3,408.3 407.0,403.1 406.8,401.9 409.5,394.2 410.7,394.1 417.2,397.5Z" fill="#fff" fill-rule="evenodd" fill-opacity="0.676"/>
<path d="M202.2,308.2 202.8,308.4 204.8,308.0 207.2,307.8 208.9,308.8 210.0,313.1 209.2,314.6 193.6,322.3 186.1,321.1 184.6,319.4 187.6,315.6 187.2,312.6 192.9,311.5 199.7,309.2 200.5,308.3 202.2,308.2Z" fill="#fff" fill-rule="evenodd" fill-opacity="0.666"/>
<path d="M472.4,302.2 478.5,300.5 482.1,300.4 481.9,300.6 480.9,303.8 482.3,305.2 483.3,305.3 482.1,306.5 464.8,309.3 456.3,304.1 455.0,298.7 455.3,297.3 456.8,296.7 472.4,302.2Z" fill="#fff" fill-rule="evenodd" fill-opacity="0.666"/>
<path d="M557.6,300.4 559.1,301.8 556.1,302.0 554.8,303.9 555.4,306.7 544.4,307.5 541.4,304.0 541.3,302.2 542.7,301.4 557.6,300.4Z" fill="#fff" fill-rule="evenodd" fill-opacity="0.666"/>
<path d="M186.1,347.0 186.8,348.3 186.5,353.1 185.0,353.8 179.5,352.5 177.1,346.2 177.3,344.6 178.8,344.0 186.1,347.0Z" fill="#fff" fill-rule="evenodd" fill-opacity="0.652"/>
<path d="M266.4,399.7 267.4,401.3 266.4,409.2 258.4,414.4 251.8,412.5 249.3,412.6 247.5,412.0 246.6,411.1 243.7,400.8 244.0,399.4 245.2,398.7 266.4,399.7Z" fill="#fff" fill-rule="evenodd" fill-opacity="0.636"/>
<path d="M217.4,368.8 217.0,375.4 215.6,376.0 208.1,374.7 207.6,373.3 208.5,368.5 210.0,367.1 216.8,367.5 217.4,368.8Z" fill="#fff" fill-rule="evenodd" fill-opacity="0.626"/>
<path d="M283.6,388.0 284.1,396.6 283.6,397.8 282.1,398.2 274.8,396.0 273.3,387.5 273.8,386.2 275.1,385.7 283.6,388.0Z" fill="#fff" fill-rule="evenodd" fill-opacity="0.626"/>
<path d="M601.4,310.7 609.0,307.0 611.0,307.9 612.1,311.3 611.1,312.9 603.4,315.8 595.0,317.6 592.5,316.3 592.1,314.8 593.0,313.5 601.4,310.7Z" fill="#fff" fill-rule="evenodd" fill-opacity="0.626"/>
<path d="M539.6,375.1 537.1,378.6 535.2,378.5 531.7,374.2 531.6,372.8 533.1,370.6 535.1,370.1 539.7,373.7 539.6,375.1Z" fill="#fff" fill-rule="evenodd" fill-opacity="0.626"/>
<path d="M507.7,294.0 512.9,295.4 513.9,297.0 513.3,298.2 509.3,301.0 502.1,299.8 500.4,296.1 500.5,294.9 501.5,294.0 507.7,294.0Z" fill="#fff" fill-rule="evenodd" fill-opacity="0.626"/>
<path d="M356.3,365.5 355.1,366.7 347.8,367.6 344.9,363.1 344.8,361.6 345.5,361.0 355.6,362.1 356.3,365.5Z" fill="#fff" fill-rule="evenodd" fill-opacity="0.626"/>
<path d="M411.9,410.7 410.7,416.1 409.5,416.8 402.9,416.5 402.1,415.3 402.1,410.5 403.5,408.9 411.2,409.1 411.9,410.7Z" fill="#fff" fill-rule="evenodd" fill-opacity="0.626"/>
<path d="M407.1,403.2 407.2,404.5 405.4,408.9 403.5,408.9 402.2,410.5 397.7,409.3 396.7,408.5 398.5,399.9 399.4,398.8 400.7,398.8 407.1,403.2Z" fill="#fff" fill-rule="evenodd" fill-opacity="0.596"/>
<path d="M333.0,363.1 331.8,364.0 325.1,364.7 324.3,363.4 324.3,358.6 324.9,357.9 329.5,359.4 333.1,359.7 333.0,363.1Z" fill="#fff" fill-rule="evenodd" fill-opacity="0.596"/>
<path d="M344.3,363.9 344.2,367.4 342.8,368.6 334.7,368.6 333.6,367.4 333.6,364.2 334.9,362.5 343.1,362.6 344.3,363.9Z" fill="#fff" fill-rule="evenodd" fill-opacity="0.596"/>
<path d="M382.7,393.6 383.2,401.2 382.7,402.4 376.1,403.8 374.8,403.3 373.4,393.1 373.9,391.7 375.2,391.2 382.7,393.6Z" fill="#fff" fill-rule="evenodd" fill-opacity="0.578"/>
</g></g>
<g clip-path="url(#lc)"><g filter="url(#spo)">
<path d="M566.2,301.4 570.9,303.8 571.3,305.2 570.5,306.9 571.2,307.5 577.2,307.8 577.6,309.9 574.3,312.9 576.3,318.8 575.9,320.2 572.7,322.6 562.2,322.7 556.6,320.1 554.1,314.3 555.9,309.3 554.8,303.9 556.1,302.0 566.2,301.4Z" fill="#fff" fill-rule="evenodd" fill-opacity="0.696"/>
<path d="M506.3,276.5 507.3,277.5 508.2,283.3 506.8,284.3 498.6,284.2 494.9,277.8 495.0,276.3 496.3,275.4 506.3,276.5Z" fill="#fff" fill-rule="evenodd" fill-opacity="0.652"/>
<path d="M578.7,285.1 584.5,282.8 589.3,285.1 590.7,291.6 587.6,296.6 582.9,301.4 577.2,305.6 571.8,304.6 570.7,303.0 570.9,298.6 573.7,294.8 578.7,285.1Z" fill="#fff" fill-rule="evenodd" fill-opacity="0.652"/>
<path d="M568.9,429.6 573.5,434.8 575.0,439.9 574.6,441.2 570.1,443.6 564.9,443.7 562.7,439.7 561.1,429.3 561.6,427.9 562.9,427.4 568.9,429.6Z" fill="#fff" fill-rule="evenodd" fill-opacity="0.652"/>
<path d="M616.8,440.2 620.2,438.9 624.6,429.4 625.8,424.3 627.5,423.7 630.4,425.5 631.5,430.4 625.9,444.5 621.3,447.2 617.3,446.4 604.9,440.6 604.1,438.9 605.2,437.6 608.9,436.7 612.1,438.6 616.8,440.2Z" fill="#fff" fill-rule="evenodd" fill-opacity="0.652"/>
<path d="M163.2,277.3 169.4,279.4 171.9,283.9 170.9,287.5 169.7,288.4 139.4,288.9 136.5,285.4 134.5,281.4 134.9,277.7 136.2,276.4 144.3,275.4 163.2,277.3ZM156.4,284.7 156.4,282.5 151.8,280.6 142.5,280.6 142.9,284.7 149.9,285.6 156.4,284.7Z" fill="#fff" fill-rule="evenodd" fill-opacity="0.639"/>
<path d="M470.5,272.6 496.5,275.4 506.4,275.4 507.9,277.1 507.7,280.0 507.3,277.5 506.3,276.5 496.3,275.4 495.0,276.3 494.9,277.8 498.6,284.2 506.8,284.3 507.3,283.9 506.0,285.2 496.4,286.2 476.1,286.2 464.9,287.1 457.0,286.1 453.6,283.8 453.1,276.2 454.1,274.6 460.9,272.7 470.5,272.6Z" fill="#fff" fill-rule="evenodd" fill-opacity="0.639"/>
<path d="M182.0,293.1 187.5,295.9 191.7,296.7 196.8,296.2 202.1,298.2 204.3,304.4 199.7,309.2 192.9,311.5 185.5,313.0 173.6,310.2 168.3,307.1 164.2,301.9 164.9,292.7 166.4,291.2 175.1,291.2 182.0,293.1Z" fill="#fff" fill-rule="evenodd" fill-opacity="0.594"/>
<path d="M237.4,430.2 242.9,434.5 246.1,441.1 245.5,446.2 242.7,450.9 234.9,451.6 229.2,448.5 227.4,441.1 228.3,435.4 228.3,429.8 229.5,429.2 237.4,430.2Z" fill="#fff" fill-rule="evenodd" fill-opacity="0.594"/>
<path d="M426.2,302.3 430.9,305.5 431.4,307.0 430.7,308.1 425.4,311.2 410.9,311.2 405.2,310.2 399.1,308.1 397.5,301.4 397.9,300.1 399.2,299.5 426.2,302.3Z" fill="#fff" fill-rule="evenodd" fill-opacity="0.594"/>
<path d="M500.8,323.7 516.4,328.3 521.3,330.3 522.2,331.4 522.2,335.6 521.6,336.7 518.3,338.9 512.5,339.9 511.4,342.3 507.6,344.2 504.0,347.9 500.8,349.8 499.4,358.4 496.7,362.6 493.9,364.4 492.5,363.9 490.3,361.2 484.7,347.0 483.5,340.4 480.8,340.6 477.2,336.7 479.4,332.5 483.3,330.5 484.6,328.5 486.5,317.5 487.4,316.4 488.7,316.3 500.8,323.7Z" fill="#fff" fill-rule="evenodd" fill-opacity="0.594"/>
<path d="M346.3,296.7 355.2,298.7 356.3,300.3 355.8,301.5 352.3,304.1 350.4,307.8 347.3,310.9 338.8,311.5 337.6,310.9 335.6,307.4 335.4,302.7 333.0,299.4 332.8,297.7 334.0,296.8 346.3,296.7Z" fill="#fff" fill-rule="evenodd" fill-opacity="0.563"/>
<path d="M430.2,308.8 433.9,314.2 434.1,315.6 432.2,316.7 425.8,314.0 420.2,314.8 417.9,316.6 416.6,316.7 415.5,315.3 415.5,311.2 425.4,311.2 429.6,308.7 430.2,308.8Z" fill="#fff" fill-rule="evenodd" fill-opacity="0.563"/>
<path d="M440.1,305.1 445.1,308.7 455.8,306.9 461.2,309.0 462.0,310.6 460.9,312.0 454.3,313.9 444.9,314.9 438.9,316.7 434.8,314.1 432.9,305.9 433.9,305.1 440.1,305.1Z" fill="#fff" fill-rule="evenodd" fill-opacity="0.563"/>
<path d="M492.2,318.1 492.0,318.3 488.7,316.3 487.4,316.4 486.5,317.5 484.8,326.9 482.4,329.2 480.2,332.1 479.4,332.5 478.3,334.5 478.2,334.8 476.8,335.3 473.6,332.9 473.1,331.5 474.5,327.3 477.3,323.5 480.0,312.9 481.4,311.6 488.8,312.1 492.2,318.1Z" fill="#fff" fill-rule="evenodd" fill-opacity="0.563"/>
<path d="M364.7,285.8 365.6,287.3 364.5,290.9 361.6,293.8 359.5,297.8 355.3,298.8 355.2,298.7 346.3,296.7 346.0,296.7 346.1,293.8 340.2,290.3 341.3,286.5 345.1,286.3 346.1,284.4 354.8,281.9 364.7,285.8Z" fill="#fff" fill-rule="evenodd" fill-opacity="0.558"/>
<path d="M398.6,286.6 405.3,288.5 406.4,289.9 406.3,295.2 403.1,299.1 394.4,299.5 388.4,298.1 384.7,295.5 382.2,286.9 382.5,285.3 383.8,284.7 398.6,286.6Z" fill="#fff" fill-rule="evenodd" fill-opacity="0.552"/>
<path d="M251.8,412.5 260.6,415.1 263.6,421.1 260.6,427.2 256.4,433.2 251.6,435.3 246.8,431.9 247.3,425.6 245.6,422.2 243.9,413.3 245.0,412.6 251.8,412.5Z" fill="#fff" fill-rule="evenodd" fill-opacity="0.546"/>
<path d="M366.0,350.9 373.6,352.7 377.4,356.8 377.6,358.2 370.9,362.1 362.5,362.1 355.2,358.7 354.9,352.1 355.4,350.9 356.6,350.5 366.0,350.9Z" fill="#fff" fill-rule="evenodd" fill-opacity="0.544"/>
<path d="M176.3,291.5 175.1,291.2 166.4,291.2 164.9,292.7 164.3,300.0 161.3,295.1 160.9,288.5 169.7,288.4 170.9,287.5 171.5,285.3 172.1,285.3 176.3,291.5Z" fill="#fff" fill-rule="evenodd" fill-opacity="0.540"/>
<path d="M203.8,296.5 204.4,297.6 203.7,299.2 202.6,299.7 202.1,298.2 196.8,296.2 195.1,296.4 195.1,296.3 199.8,294.0 203.8,296.5Z" fill="#fff" fill-rule="evenodd" fill-opacity="0.540"/>
<path d="M187.6,315.6 182.9,321.7 181.4,321.5 178.0,318.4 178.2,311.3 185.5,313.0 187.2,312.6 187.6,315.6Z" fill="#fff" fill-rule="evenodd" fill-opacity="0.528"/>
<path d="M131.1,309.8 131.6,313.2 131.0,314.5 129.7,314.9 126.4,313.8 122.5,308.3 121.4,303.8 122.6,301.8 126.1,302.2 131.1,309.8Z" fill="#fff" fill-rule="evenodd" fill-opacity="0.528"/>
<path d="M448.3,274.9 453.3,275.8 453.1,276.2 453.6,283.8 454.4,284.3 446.8,285.2 440.2,287.7 437.9,292.3 437.8,298.9 436.2,300.1 427.5,299.1 421.7,297.1 419.1,295.5 414.5,295.8 406.3,293.1 406.4,289.9 405.3,288.5 398.6,286.6 392.8,285.8 391.6,279.2 392.0,277.8 393.1,277.3 448.3,274.9Z" fill="#fff" fill-rule="evenodd" fill-opacity="0.528"/>
<path d="M537.9,341.3 542.9,344.3 546.2,347.9 546.0,353.1 541.2,356.6 534.4,355.4 531.9,350.8 530.9,342.1 531.5,340.7 532.9,340.3 537.9,341.3Z" fill="#fff" fill-rule="evenodd" fill-opacity="0.528"/>
<path d="M327.8,347.7 357.6,349.5 374.3,351.4 378.3,354.1 383.5,353.2 391.5,354.3 392.5,355.5 392.5,359.7 391.3,361.2 380.0,363.0 372.3,362.2 364.9,363.1 329.5,359.4 319.5,356.3 317.0,349.6 318.1,348.7 327.8,347.7ZM355.2,358.7 362.5,362.1 370.9,362.1 377.6,358.2 377.4,356.8 373.6,352.7 366.0,350.9 356.6,350.5 355.4,350.9 354.9,352.1 355.2,358.7Z" fill="#fff" fill-rule="evenodd" fill-opacity="0.523"/>
<path d="M395.2,276.7 395.3,277.2 393.1,277.3 392.0,277.8 391.6,279.2 392.8,285.8 383.8,284.7 382.5,285.3 382.2,286.8 377.2,285.1 376.2,283.7 376.2,277.1 377.6,275.4 394.2,275.5 395.2,276.7Z" fill="#fff" fill-rule="evenodd" fill-opacity="0.507"/>
<path d="M552.6,320.6 552.9,321.9 549.1,326.6 543.4,326.7 539.8,323.2 539.3,318.9 540.5,317.2 548.7,316.6 552.6,320.6Z" fill="#fff" fill-rule="evenodd" fill-opacity="0.507"/>
<path d="M374.3,273.1 374.9,274.6 372.0,277.7 367.3,278.2 363.9,276.2 363.2,272.7 364.2,270.9 369.8,269.9 374.3,273.1Z" fill="#fff" fill-rule="evenodd" fill-opacity="0.494"/>
<path d="M546.6,351.4 547.9,352.1 549.0,358.0 545.6,362.7 544.4,363.0 543.3,362.4 540.6,356.5 541.2,356.6 546.0,353.1 546.1,351.4 546.6,351.4Z" fill="#fff" fill-rule="evenodd" fill-opacity="0.482"/>
<path d="M376.8,276.3 376.2,277.1 376.2,283.7 377.2,285.1 377.9,285.3 364.7,290.2 365.6,287.3 364.7,285.8 356.7,282.7 356.5,279.5 357.7,277.9 364.5,276.6 367.3,278.2 372.0,277.7 373.6,275.9 376.8,276.3Z" fill="#fff" fill-rule="evenodd" fill-opacity="0.473"/>
<path d="M380.1,293.5 375.2,291.5 372.0,289.4 371.8,287.6 377.9,285.3 382.2,286.8 382.2,286.9 384.5,294.8 380.1,293.5Z" fill="#fff" fill-rule="evenodd" fill-opacity="0.473"/>
<path d="M373.5,291.6 374.8,292.9 374.8,296.9 373.4,298.2 366.4,297.6 361.9,294.8 361.6,293.9 361.6,293.8 363.6,291.8 373.5,291.6Z" fill="#fff" fill-rule="evenodd" fill-opacity="0.473"/>
<path d="M529.3,333.8 530.4,334.7 531.0,342.0 530.9,342.1 531.0,343.2 529.5,349.0 528.6,350.0 524.8,350.1 523.6,349.1 523.5,342.1 522.0,336.0 522.2,335.6 522.2,333.4 523.3,332.9 529.3,333.8Z" fill="#fff" fill-rule="evenodd" fill-opacity="0.473"/>
<path d="M548.3,308.8 555.7,309.7 554.1,314.3 555.1,316.6 553.9,316.7 548.8,316.7 548.7,316.6 546.8,316.7 546.3,316.7 540.9,315.5 538.5,311.4 538.5,309.8 539.8,309.0 548.3,308.8Z" fill="#fff" fill-rule="evenodd" fill-opacity="0.473"/>
<path d="M403.5,299.9 399.2,299.5 397.9,300.1 397.5,301.4 397.7,302.1 396.7,302.3 390.2,301.8 385.7,299.3 385.0,295.7 388.4,298.1 394.4,299.5 403.1,299.1 403.2,298.9 403.5,299.9Z" fill="#fff" fill-rule="evenodd" fill-opacity="0.441"/>
<path d="M550.0,339.5 548.6,343.1 545.5,343.6 544.4,343.1 543.9,338.2 545.4,336.6 549.5,338.0 550.0,339.5Z" fill="#fff" fill-rule="evenodd" fill-opacity="0.441"/>
<path d="M561.8,390.4 563.0,392.1 562.0,393.5 557.5,394.9 547.7,393.2 545.2,390.7 545.0,388.9 546.7,387.9 561.8,390.4Z" fill="#fff" fill-rule="evenodd" fill-opacity="0.441"/>
<path d="M424.7,351.0 426.6,356.9 429.9,361.3 424.9,368.4 418.9,368.5 415.3,364.0 414.2,357.6 415.1,350.4 416.9,349.0 423.7,350.2 424.7,351.0Z" fill="#fff" fill-rule="evenodd" fill-opacity="0.441"/>
</g></g>
<g clip-path="url(#lc)"><g filter="url(#spg)">
<path d="M566.2,301.4 570.9,303.8 571.3,305.2 570.5,306.9 571.2,307.5 577.2,307.8 577.6,309.9 574.3,312.9 576.3,318.8 575.9,320.2 572.7,322.6 562.2,322.7 556.6,320.1 554.1,314.3 555.9,309.3 554.8,303.9 556.1,302.0 566.2,301.4Z" fill="#fff" fill-rule="evenodd" fill-opacity="0.578"/>
<path d="M251.8,412.5 260.6,415.1 263.6,421.1 260.6,427.2 256.4,433.2 251.6,435.3 246.8,431.9 247.3,425.6 245.6,422.2 243.9,413.3 245.0,412.6 251.8,412.5Z" fill="#fff" fill-rule="evenodd" fill-opacity="0.555"/>
<path d="M578.7,285.1 584.5,282.8 589.3,285.1 590.7,291.6 587.6,296.6 582.9,301.4 577.2,305.6 571.8,304.6 570.7,303.0 570.9,298.6 573.7,294.8 578.7,285.1Z" fill="#fff" fill-rule="evenodd" fill-opacity="0.555"/>
<path d="M237.4,430.2 242.9,434.5 246.1,441.1 245.5,446.2 242.7,450.9 234.9,451.6 229.2,448.5 227.4,441.1 228.3,435.4 228.3,429.8 229.5,429.2 237.4,430.2Z" fill="#fff" fill-rule="evenodd" fill-opacity="0.537"/>
<path d="M364.7,285.8 365.6,287.3 364.5,290.9 361.6,293.8 359.5,297.8 352.7,299.5 346.6,298.8 346.0,297.6 346.1,293.8 340.2,290.3 341.3,286.5 345.1,286.3 346.1,284.4 354.8,281.9 364.7,285.8Z" fill="#fff" fill-rule="evenodd" fill-opacity="0.496"/>
<path d="M182.0,293.1 187.5,295.9 191.7,296.7 196.8,296.2 202.1,298.2 204.3,304.4 199.7,309.2 192.9,311.5 185.5,313.0 173.6,310.2 168.3,307.1 164.2,301.9 164.9,292.7 166.4,291.2 175.1,291.2 182.0,293.1Z" fill="#fff" fill-rule="evenodd" fill-opacity="0.493"/>
<path d="M398.6,286.6 405.3,288.5 406.4,289.9 406.3,295.2 403.1,299.1 394.4,299.5 388.4,298.1 384.7,295.5 382.2,286.9 382.5,285.3 383.8,284.7 398.6,286.6Z" fill="#fff" fill-rule="evenodd" fill-opacity="0.491"/>
<path d="M366.0,350.9 373.6,352.7 377.4,356.8 377.6,358.2 370.9,362.1 362.5,362.1 355.2,358.7 354.9,352.1 355.4,350.9 356.6,350.5 366.0,350.9Z" fill="#fff" fill-rule="evenodd" fill-opacity="0.485"/>
<path d="M176.3,291.5 175.1,291.2 166.4,291.2 164.9,292.7 164.3,300.0 161.3,295.1 160.9,286.8 162.4,285.1 172.1,285.3 176.3,291.5Z" fill="#fff" fill-rule="evenodd" fill-opacity="0.483"/>
<path d="M203.8,296.5 204.4,297.6 203.7,299.2 202.6,299.7 202.1,298.2 196.8,296.2 195.1,296.4 195.1,296.3 199.8,294.0 203.8,296.5Z" fill="#fff" fill-rule="evenodd" fill-opacity="0.483"/>
<path d="M500.8,323.7 516.4,328.3 521.3,330.3 522.2,331.4 522.2,335.6 521.6,336.7 518.3,338.9 512.5,339.9 511.4,342.3 507.6,344.2 504.0,347.9 500.8,349.8 499.4,358.4 496.7,362.6 493.9,364.4 492.5,363.9 490.3,361.2 484.7,347.0 483.5,340.4 480.8,340.6 477.2,336.7 479.4,332.5 483.3,330.5 484.6,328.5 486.5,317.5 487.4,316.4 488.7,316.3 500.8,323.7Z" fill="#fff" fill-rule="evenodd" fill-opacity="0.477"/>
<path d="M187.6,315.6 182.9,321.7 181.4,321.5 178.0,318.4 178.2,311.3 185.5,313.0 187.2,312.6 187.6,315.6Z" fill="#fff" fill-rule="evenodd" fill-opacity="0.474"/>
<path d="M131.1,309.8 131.6,313.2 131.0,314.5 129.7,314.9 126.4,313.8 122.5,308.3 121.4,303.8 122.6,301.8 126.1,302.2 131.1,309.8Z" fill="#fff" fill-rule="evenodd" fill-opacity="0.474"/>
<path d="M448.3,274.9 456.0,276.3 456.4,282.8 455.2,284.2 446.8,285.2 440.2,287.7 437.9,292.3 437.8,298.9 436.2,300.1 427.5,299.1 421.7,297.1 419.1,295.5 414.5,295.8 406.3,293.1 406.4,289.9 405.3,288.5 398.6,286.6 392.8,285.8 391.6,279.2 392.0,277.8 393.1,277.3 448.3,274.9Z" fill="#fff" fill-rule="evenodd" fill-opacity="0.474"/>
<path d="M537.9,341.3 542.9,344.3 546.2,347.9 546.0,353.1 541.2,356.6 534.4,355.4 531.9,350.8 530.9,342.1 531.5,340.7 532.9,340.3 537.9,341.3Z" fill="#fff" fill-rule="evenodd" fill-opacity="0.474"/>
<path d="M492.2,318.1 492.0,318.3 488.7,316.3 487.4,316.4 486.5,317.5 484.8,326.9 482.4,329.2 480.2,332.1 479.4,332.5 478.3,334.5 478.2,334.8 476.8,335.3 473.6,332.9 473.1,331.5 474.5,327.3 477.3,323.5 480.0,312.9 481.4,311.6 488.8,312.1 492.2,318.1Z" fill="#fff" fill-rule="evenodd" fill-opacity="0.471"/>
<path d="M395.2,276.7 395.3,277.2 393.1,277.3 392.0,277.8 391.6,279.2 392.8,285.8 383.8,284.7 382.5,285.3 382.2,286.8 377.2,285.1 376.2,283.7 376.2,277.1 377.6,275.4 394.2,275.5 395.2,276.7Z" fill="#fff" fill-rule="evenodd" fill-opacity="0.462"/>
<path d="M552.6,320.6 552.9,321.9 549.1,326.6 543.4,326.7 539.8,323.2 539.3,318.9 540.5,317.2 548.7,316.6 552.6,320.6Z" fill="#fff" fill-rule="evenodd" fill-opacity="0.462"/>
<path d="M163.2,277.3 169.4,279.4 171.9,283.9 171.5,285.3 162.4,285.1 160.9,286.8 160.9,288.5 139.4,288.9 136.5,285.4 134.5,281.4 134.9,277.7 136.2,276.4 144.3,275.4 163.2,277.3ZM156.4,284.7 156.4,282.5 151.8,280.6 142.5,280.6 142.9,284.7 149.9,285.6 156.4,284.7Z" fill="#fff" fill-rule="evenodd" fill-opacity="0.459"/>
<path d="M506.3,276.5 507.3,277.5 508.2,283.3 506.8,284.3 498.6,284.2 494.9,277.8 495.0,276.3 496.3,275.4 506.3,276.5Z" fill="#fff" fill-rule="evenodd" fill-opacity="0.459"/>
<path d="M568.9,429.6 573.5,434.8 575.0,439.9 574.6,441.2 570.1,443.6 564.9,443.7 562.7,439.7 561.1,429.3 561.6,427.9 562.9,427.4 568.9,429.6Z" fill="#fff" fill-rule="evenodd" fill-opacity="0.459"/>
<path d="M616.8,440.2 620.2,438.9 624.6,429.4 625.8,424.3 627.5,423.7 630.4,425.5 631.5,430.4 625.9,444.5 621.3,447.2 617.3,446.4 604.9,440.6 604.1,438.9 605.2,437.6 608.9,436.7 612.1,438.6 616.8,440.2Z" fill="#fff" fill-rule="evenodd" fill-opacity="0.459"/>
<path d="M374.3,273.1 374.9,274.6 372.0,277.7 367.3,278.2 363.9,276.2 363.2,272.7 364.2,270.9 369.8,269.9 374.3,273.1Z" fill="#fff" fill-rule="evenodd" fill-opacity="0.452"/>
<path d="M346.0,296.7 346.0,297.6 346.6,298.8 352.7,299.5 355.3,298.8 356.3,300.3 355.8,301.5 352.3,304.1 350.4,307.8 347.3,310.9 338.8,311.5 337.6,310.9 335.6,307.4 335.4,302.7 333.0,299.4 332.8,297.7 334.0,296.8 346.0,296.7Z" fill="#fff" fill-rule="evenodd" fill-opacity="0.442"/>
<path d="M470.5,272.6 496.5,275.4 506.4,275.4 507.9,277.1 507.7,280.0 507.3,277.5 506.3,276.5 496.3,275.4 495.0,276.3 494.9,277.8 498.6,284.2 506.8,284.3 507.3,283.9 506.0,285.2 496.4,286.2 476.1,286.2 464.9,287.1 457.0,286.1 454.4,284.3 455.2,284.2 456.4,282.8 456.0,276.3 453.3,275.8 454.1,274.6 460.9,272.7 470.5,272.6Z" fill="#fff" fill-rule="evenodd" fill-opacity="0.442"/>
<path d="M426.2,302.3 430.9,305.5 431.4,307.0 430.7,308.1 425.4,311.2 410.9,311.2 405.2,310.2 399.1,308.1 397.5,301.4 397.9,300.1 399.2,299.5 426.2,302.3Z" fill="#fff" fill-rule="evenodd" fill-opacity="0.442"/>
<path d="M430.2,308.8 433.9,314.2 434.1,315.6 432.2,316.7 425.8,314.0 420.2,314.8 417.9,316.6 416.6,316.7 415.5,315.3 415.5,311.2 425.4,311.2 429.6,308.7 430.2,308.8Z" fill="#fff" fill-rule="evenodd" fill-opacity="0.442"/>
<path d="M440.1,305.1 445.1,308.7 455.8,306.9 461.2,309.0 462.0,310.6 460.9,312.0 454.3,313.9 444.9,314.9 438.9,316.7 434.8,314.1 432.9,305.9 433.9,305.1 440.1,305.1Z" fill="#fff" fill-rule="evenodd" fill-opacity="0.442"/>
<path d="M327.8,347.7 357.6,349.5 374.3,351.4 378.3,354.1 383.5,353.2 391.5,354.3 392.5,355.5 392.5,359.7 391.3,361.2 380.0,363.0 372.3,362.2 364.9,363.1 329.5,359.4 319.5,356.3 317.0,349.6 318.1,348.7 327.8,347.7ZM370.9,362.1 377.6,358.2 377.4,356.8 373.6,352.7 366.0,350.9 356.6,350.5 355.4,350.9 354.9,352.1 355.2,358.7 362.5,362.1 370.9,362.1Z" fill="#fff" fill-rule="evenodd" fill-opacity="0.442"/>
<path d="M546.6,351.4 547.9,352.1 549.0,358.0 545.6,362.7 544.4,363.0 543.3,362.4 540.6,356.5 541.2,356.6 546.0,353.1 546.1,351.4 546.6,351.4Z" fill="#fff" fill-rule="evenodd" fill-opacity="0.436"/>
<path d="M376.8,276.3 376.2,277.1 376.2,283.7 377.2,285.1 377.9,285.3 364.7,290.2 365.6,287.3 364.7,285.8 356.7,282.7 356.5,279.5 357.7,277.9 364.5,276.6 367.3,278.2 372.0,277.7 373.6,275.9 376.8,276.3Z" fill="#fff" fill-rule="evenodd" fill-opacity="0.422"/>
<path d="M380.1,293.5 375.2,291.5 372.0,289.4 371.8,287.6 377.9,285.3 382.2,286.8 382.2,286.9 384.5,294.8 380.1,293.5Z" fill="#fff" fill-rule="evenodd" fill-opacity="0.422"/>
<path d="M373.5,291.6 374.8,292.9 374.8,296.9 373.4,298.2 366.4,297.6 361.9,294.8 361.6,293.9 361.6,293.8 363.6,291.8 373.5,291.6Z" fill="#fff" fill-rule="evenodd" fill-opacity="0.422"/>
<path d="M529.3,333.8 530.4,334.7 531.0,342.0 530.9,342.1 531.0,343.2 529.5,349.0 528.6,350.0 524.8,350.1 523.6,349.1 523.5,342.1 522.0,336.0 522.2,335.6 522.2,333.4 523.3,332.9 529.3,333.8Z" fill="#fff" fill-rule="evenodd" fill-opacity="0.422"/>
<path d="M548.3,308.8 555.7,309.7 554.1,314.3 555.1,316.6 553.9,316.7 548.8,316.7 548.7,316.6 546.8,316.7 546.3,316.7 540.9,315.5 538.5,311.4 538.5,309.8 539.8,309.0 548.3,308.8Z" fill="#fff" fill-rule="evenodd" fill-opacity="0.422"/>
</g></g>
<g clip-path="url(#lc)"><g filter="url(#spl)">
<polygon points="118.4,251.1 174.0,251.1 201.8,263.2 235.2,269.7 242.6,281.7 220.3,291.9 201.8,294.3 179.6,288.8 161.0,278.0 136.9,270.6 118.4,263.2" fill="#fff" fill-opacity="0.522"/>
<polygon points="372.3,263.2 387.1,251.1 405.6,249.3 413.1,259.5 411.2,265.0 401.9,266.3 390.8,266.0 377.8,268.7" fill="#fff" fill-opacity="0.550"/>
<polygon points="44.3,263.2 72.1,248.4 88.8,249.3 88.8,263.2 62.8,266.9" fill="#fff" fill-opacity="0.498"/>
</g><g filter="url(#spa)">
<polygon points="118.4,233.5 238.9,224.3 235.2,237.2 229.6,255.8 201.8,263.2 174.0,255.8 118.4,251.1" fill="#fff" fill-opacity="0.667"/>
<polygon points="364.9,237.2 414.9,237.2 414.9,226.1 364.9,226.1" fill="#fff" fill-opacity="0.723"/>
<polygon points="431.6,231.7 472.4,231.7 472.4,225.2 431.6,225.2" fill="#fff" fill-opacity="0.783"/>
<polygon points="513.1,234.5 553.9,234.5 553.9,226.1 513.1,226.1" fill="#fff" fill-opacity="0.723"/>
</g></g>
<g fill="#000">
<polygon points="436.8,295.1 438.1,293.4 440.8,291.9 444.6,290.8 448.3,291.2 448.6,293.2 447.7,294.1 445.1,294.7 444.6,295.8 443.6,296.5 445.5,298.0 447.7,299.3 448.1,301.2 449.7,302.5 447.9,304.0 449.2,304.9 449.9,307.3 449.9,309.1 447.3,310.1 444.6,309.9 442.5,308.8 440.8,307.3 440.7,306.0 441.6,304.7 443.3,303.4 441.8,302.3 440.3,300.6 438.6,298.9 437.9,297.7 438.1,296.2"/>
<polygon points="401.9,301.0 404.0,301.7 407.5,301.9 410.3,300.6 413.1,300.2 415.3,300.2 417.7,301.5 420.5,302.3 423.6,302.1 427.0,301.2 427.1,299.1 425.1,298.2 422.3,296.5 419.5,295.2 417.9,294.1 415.8,294.5 413.8,295.6 412.1,295.6 410.5,293.9 412.3,292.8 409.3,291.9 407.5,291.7 406.0,293.2 404.9,294.3 403.4,295.6 403.0,297.5 401.8,298.8"/>
<polygon points="414.9,293.6 415.8,294.1 417.9,293.9 421.0,292.5 422.7,290.6 419.5,291.2 416.4,292.1"/>
<polygon points="179.2,291.7 182.3,292.1 187.0,291.5 189.8,292.3 193.3,292.3 193.7,291.2 192.9,289.5 189.8,287.5 186.1,287.5 183.8,288.6 181.1,290.1"/>
<polygon points="187.0,300.2 188.8,301.2 190.5,299.9 190.5,297.5 190.3,295.6 192.0,294.1 193.3,293.0 191.4,292.6 189.2,293.0 187.4,295.1 187.0,297.5"/>
<polygon points="192.9,292.6 195.3,292.5 199.0,292.6 201.6,293.6 202.2,295.6 199.4,295.1 198.8,296.7 197.4,298.6 195.1,296.9 195.5,295.1 193.7,293.8"/>
<polygon points="195.5,300.8 197.2,301.4 200.0,300.6 203.7,298.8 201.2,299.1 199.0,299.1 196.2,300.1"/>
<polygon points="202.2,297.8 205.5,297.8 208.7,297.5 208.5,296.4 206.4,296.5 203.1,297.1"/>
<polygon points="170.3,284.5 171.6,282.6 169.4,278.9 167.0,278.0 168.5,280.8 169.4,283.6"/>
<polygon points="133.2,264.7 138.8,263.9 144.4,262.1 143.4,261.5 137.9,263.2 134.2,263.7"/>
<polygon points="118.4,257.3 124.0,256.9 128.6,255.2 127.7,254.5 123.1,255.8 119.3,256.1"/>
<polygon points="458.1,291.7 461.2,292.5 463.1,294.7 462.2,296.9 459.8,297.5 458.3,295.6 458.6,293.8"/>
<polygon points="409.3,378.6 411.2,377.5 413.1,378.1 414.0,379.0 412.1,382.7 409.3,382.7 408.6,379.9"/>
</g>
<g fill="none" stroke="#000" stroke-width="1.1">
<polyline points="542.4,282.5 544.6,281.7 547.4,280.2 550.2,278.6 553.0,274.9"/>
<polyline points="404.0,384.4 404.3,387.3 404.9,390.1 406.6,392.0 407.5,394.2"/>
<polyline points="413.1,395.7 413.6,398.5 414.2,401.2 415.3,404.6"/>
</g>
<polyline points="483.5,254.7 477.9,254.7 473.5,255.2 471.6,257.6 474.2,260.8 477.0,263.2 478.8,265.0 484.4,265.0 491.8,265.0 495.5,266.5 499.2,268.7 502.9,270.6" fill="none" stroke="#222" stroke-width="0.8"/>
<polyline points="502.0,247.4 504.8,249.3 509.4,252.1 511.3,255.2 513.1,258.6 515.9,262.3 516.8,266.9" fill="none" stroke="#555" stroke-width="0.6"/>
<polyline points="584.5,243.7 586.3,246.5 584.5,249.3 580.8,253.0 578.9,255.8 579.8,258.6 585.4,261.3 590.0,263.2" fill="none" stroke="#999" stroke-width="0.5"/>
<g fill="none" stroke="#000" stroke-width="0.75" stroke-linejoin="round">
<polyline points="122.1,287.3 173.6,287.3 173.6,286.5 174.8,287.8 177.7,288.0 181.4,288.8 184.0,289.1"/>
<polyline points="193.5,291.9 195.3,292.8 197.4,298.4 196.2,300.2"/>
<polyline points="203.7,298.0 203.7,298.8"/>
<polyline points="208.7,296.2 211.6,294.7 217.6,294.7 219.2,293.6 220.3,291.5 221.8,290.2 223.7,290.4 224.4,290.8 224.4,293.4 225.7,294.5"/>
<polyline points="88.8,249.1 88.8,266.3 91.5,267.1 95.3,268.4 99.0,267.3 102.7,269.7 105.4,272.8 109.2,274.5 109.2,276.2"/>
<polyline points="133.1,317.9 137.5,317.5 144.4,320.1 149.5,320.1 149.5,319.1 152.7,319.1 156.4,323.2 159.2,324.3 160.3,322.9 162.2,322.9 164.2,325.6 165.7,327.1 169.7,330.1"/>
<polyline points="179.2,351.0 179.6,350.1 180.1,348.2 182.5,348.2 180.7,346.1 184.9,345.1 184.9,344.8 186.4,343.8"/>
<polyline points="184.9,345.1 184.8,348.6 186.6,349.0"/>
<polyline points="184.8,348.6 184.5,351.4 183.1,352.7"/>
<polyline points="184.5,351.4 186.1,352.3 187.4,353.2"/>
<polyline points="188.3,354.2 189.4,353.4 191.2,352.1 192.7,350.6 195.9,350.3"/>
<polyline points="191.2,357.5 194.4,358.1 194.9,357.9"/>
<polyline points="197.0,360.3 196.4,363.3"/>
<polyline points="205.7,364.7 207.0,362.1"/>
<polyline points="216.1,357.5 214.8,361.0 215.7,363.3 216.6,364.5 220.2,365.1 224.2,366.6 224.4,369.7 225.3,373.8 225.9,376.0"/>
<polyline points="225.9,376.0 221.3,376.2 220.3,378.4 221.3,380.3 220.5,385.9"/>
<polyline points="220.5,385.9 219.0,385.1 216.6,382.5 213.7,380.3 210.7,378.3"/>
<polyline points="210.7,378.3 206.6,377.3 204.0,375.5"/>
<polyline points="210.7,378.3 210.0,381.0 207.4,383.6 204.8,384.6 204.2,386.6 202.7,386.4 201.2,384.4"/>
<polyline points="238.9,362.3 236.6,365.7 237.6,368.4 233.7,370.7 230.0,370.3 231.5,373.4 228.7,376.6 225.9,376.0"/>
<polyline points="237.6,368.4 239.2,370.5 239.6,374.9 241.6,375.7 245.4,374.6"/>
<polyline points="244.1,367.1 242.6,370.7 245.4,374.6"/>
<polyline points="250.0,367.5 249.4,370.7 250.0,374.0"/>
<polyline points="245.4,374.6 248.1,373.4 250.0,374.0 252.8,373.8 254.4,370.3"/>
<polyline points="220.5,385.9 215.0,387.7 213.1,391.8 214.8,395.5 215.9,396.6 219.2,398.5 221.1,398.5"/>
<polyline points="221.1,398.5 222.7,401.4 222.2,404.0 221.4,406.4 222.2,408.3 221.1,410.1 219.6,412.0"/>
<polyline points="221.1,398.5 223.1,398.5 227.7,396.2 229.0,398.3 230.5,401.2 235.2,402.5 237.9,403.5 238.5,408.3 241.8,408.3 242.2,410.5 243.5,411.8"/>
<polyline points="221.1,410.1 223.3,414.0 222.9,417.9 224.4,420.3"/>
<polyline points="224.4,420.3 227.4,418.5 230.9,419.8 233.7,418.8"/>
<polyline points="233.7,418.8 234.6,416.1 235.7,414.4 240.5,413.8 242.2,414.8 243.5,411.8"/>
<polyline points="242.2,414.8 242.8,419.0 246.6,419.4 247.4,422.5 249.4,422.5 248.9,425.5"/>
<polyline points="233.7,418.8 238.9,422.2 242.6,425.3 241.5,428.7 245.4,429.0 248.7,427.2 248.9,425.5"/>
<polyline points="224.4,420.3 225.5,422.5 223.5,424.6 223.1,428.1 221.1,430.9 220.3,433.7 220.3,439.2 219.4,442.9 218.5,446.6 217.9,451.3 217.0,455.9 217.4,459.6 216.8,463.3 215.7,466.1 214.2,469.8 216.1,472.6 216.8,474.4 222.2,474.8"/>
<polyline points="222.9,475.5 222.9,479.8"/>
<polyline points="248.9,425.5 250.5,426.4 250.4,428.5 246.6,430.3 243.3,434.0"/>
<polyline points="243.3,434.0 242.4,437.4 241.8,441.1"/>
<polyline points="243.3,434.0 246.6,435.5 251.1,440.5"/>
<polyline points="346.9,313.0 346.7,315.1 347.1,317.9 343.2,321.0 340.8,322.5 333.9,324.9 333.9,326.7"/>
<polyline points="333.9,326.7 325.6,326.7"/>
<polyline points="333.9,327.5 333.9,329.9 327.8,329.9 327.8,334.5 326.0,335.5 325.8,338.6 318.5,338.6"/>
<polyline points="333.9,327.5 341.2,331.7 352.3,339.0 356.0,342.9 358.0,342.5"/>
<polyline points="358.0,342.5 360.8,342.1 364.9,339.5 372.1,334.5"/>
<polyline points="372.1,334.5 368.6,331.2 367.7,328.0 368.4,322.5 367.7,322.1"/>
<polyline points="366.0,309.7 365.8,313.2 363.9,315.1 364.9,316.9 367.7,322.1 369.1,319.5 371.4,316.7"/>
<polyline points="396.4,319.5 396.4,337.3 418.4,337.3"/>
<polyline points="396.4,337.3 396.4,341.0 394.5,341.0 394.5,341.9 379.5,334.7 376.0,336.2 372.1,334.5"/>
<polyline points="341.2,331.7 338.9,338.6 339.9,348.4 328.9,349.5 327.4,351.0"/>
<polyline points="327.4,351.0 324.1,347.5 319.5,347.9"/>
<polyline points="358.0,342.5 357.8,347.5 356.7,349.4 351.9,350.3 349.3,350.1"/>
<polyline points="379.5,334.7 378.8,341.0 379.1,344.7 376.0,351.2 375.3,352.7"/>
<polyline points="356.7,356.4 357.6,353.1 360.2,352.3 363.0,354.0 366.7,354.4 372.3,353.4 375.3,352.7"/>
<polyline points="355.1,366.2 355.1,361.4 356.7,356.4"/>
<polyline points="353.0,366.6 353.0,361.4 351.7,357.7"/>
<polyline points="352.3,366.8 351.0,364.2 350.4,357.7"/>
<polyline points="344.3,368.6 344.7,365.1 345.2,361.4 344.9,357.7 350.1,357.5 351.7,357.7 354.5,356.0 356.7,356.4"/>
<polyline points="349.3,350.1 352.8,353.4 354.5,356.0"/>
<polyline points="365.8,369.6 366.7,366.0 371.4,365.1 373.2,362.3 375.6,358.1 376.9,355.8 376.4,353.8"/>
<polyline points="376.4,353.8 377.8,359.5 376.4,361.4 378.8,364.2 385.3,361.4 390.8,358.1 392.3,357.7"/>
<polyline points="394.5,341.9 390.8,349.4 391.7,352.1 390.8,354.9 392.3,357.7 394.5,362.3 400.8,368.6"/>
<polyline points="376.9,368.8 378.8,364.2"/>
<polyline points="376.9,368.8 376.9,374.0 380.1,374.0 380.8,371.6 384.5,371.6 388.0,370.1 392.7,369.6 396.4,368.8 400.8,368.6 407.1,371.6"/>
<polyline points="368.2,373.8 371.0,374.0 376.9,374.0"/>
<polyline points="371.0,374.0 374.5,375.7 376.9,379.9 374.1,382.7 370.8,385.3"/>
<polyline points="384.5,371.6 382.8,379.0 380.1,381.8 378.4,385.9 372.7,388.8"/>
<polyline points="372.7,388.8 374.1,389.0 380.1,389.0 382.7,393.1 386.0,391.0 390.4,391.6 390.8,396.0 391.4,398.5 395.1,398.8 396.9,399.2 399.2,400.1 401.9,400.9 403.8,402.9 405.3,402.9 405.3,400.7 402.9,397.5 403.0,393.6 407.1,393.5"/>
<polyline points="390.8,402.2 390.8,408.1 393.0,410.5"/>
<polyline points="371.9,410.1 376.0,410.3 384.3,410.7 388.8,411.4 393.0,410.5 396.7,411.1"/>
<polyline points="387.1,411.4 387.1,418.8 387.1,424.0 387.1,430.7 380.6,431.1"/>
<polyline points="407.1,371.6 405.6,375.3 404.9,380.7 403.8,383.3 404.2,386.4"/>
<polyline points="394.5,362.3 399.2,360.5 405.6,359.5 410.3,355.8 413.4,358.6"/>
<polyline points="417.7,351.6 415.8,354.9 413.4,358.6 413.1,362.3 411.2,363.4 416.4,368.8"/>
<polyline points="407.5,371.2 412.1,371.2 416.4,368.8"/>
<polyline points="417.7,351.6 421.4,351.4 424.2,351.2 428.4,354.9"/>
<polyline points="428.4,354.9 427.5,357.7 429.7,357.9"/>
<polyline points="429.7,357.9 431.6,361.4 438.8,363.3 433.4,368.8 431.2,369.9 427.7,370.7"/>
<polyline points="416.4,368.8 420.5,371.4 423.2,371.6 427.7,370.7"/>
<polyline points="426.0,370.7 426.0,381.0"/>
<polyline points="413.1,370.3 414.9,375.3 413.1,378.1"/>
<polyline points="412.9,379.9 419.5,384.6 422.7,386.8"/>
<polyline points="406.6,379.9 408.6,379.9"/>
<polyline points="407.1,393.5 411.0,395.5 413.1,395.7"/>
<polyline points="414.5,399.4 419.5,399.6 424.9,397.5"/>
<polyline points="396.7,411.1 401.9,408.7 406.4,407.0"/>
<polyline points="406.4,407.0 411.0,403.8 411.6,401.4 411.0,395.5"/>
<polyline points="406.4,407.0 411.2,408.5 410.6,412.4 411.2,416.1 408.1,419.6"/>
<polyline points="396.7,411.1 398.6,414.2 401.0,416.1 404.5,419.2 408.1,419.6"/>
<polyline points="387.1,424.0 391.7,426.3 396.4,425.7 400.1,422.5 404.5,419.2"/>
<polyline points="408.1,419.6 409.3,423.5 411.0,427.9"/>
<polyline points="411.8,404.0 415.3,404.9 415.5,409.6"/>
<polyline points="400.1,431.8 402.9,431.1 404.5,433.7 401.9,434.8 400.1,431.8"/>
<polyline points="327.4,351.0 328.9,355.1"/>
<polyline points="319.1,355.3 324.7,354.7 326.9,355.1 328.9,355.1"/>
<polyline points="325.4,361.4 329.7,359.5 331.0,362.3"/>
<polyline points="336.2,369.9 334.3,363.8 334.7,358.8 339.9,358.8 344.9,360.3"/>
<polyline points="328.9,355.1 333.4,354.9 334.7,358.8"/>
<polyline points="339.9,358.8 341.9,354.7 346.3,351.8 349.3,350.1"/>
<polyline points="328.7,365.1 331.0,362.3 334.3,363.8"/>
<polyline points="346.7,297.7 351.3,298.8 356.0,299.5"/>
<polyline points="333.6,300.2 334.9,300.4 337.8,300.4 337.3,302.1 337.3,303.4 336.5,304.9 337.1,306.7 336.3,309.1"/>
<polyline points="354.7,283.4 357.8,285.6 360.8,286.3 361.9,286.3 365.2,287.3 364.1,289.9"/>
<polyline points="364.1,289.9 361.4,292.5 363.0,293.0 363.0,296.2 363.9,296.9"/>
<polyline points="364.1,289.9 367.7,289.9 369.5,291.2 366.7,293.2 363.0,293.0"/>
<polyline points="369.5,291.2 373.0,290.8 375.4,291.9 375.3,293.8"/>
<polyline points="363.0,279.3 361.5,281.7 361.2,283.9 361.9,286.3"/>
<polyline points="356.4,282.8 360.8,283.9 361.2,283.9"/>
<polyline points="366.2,276.3 367.8,276.3"/>
<polyline points="376.5,278.2 377.1,280.8 377.7,283.6 372.5,284.9 375.6,287.6 374.1,290.1 369.5,290.2 367.7,289.9"/>
<polyline points="377.7,283.6 380.3,284.1 384.9,286.3 391.7,287.1"/>
<polyline points="375.6,287.6 377.8,287.3 381.4,288.0 384.9,286.3"/>
<polyline points="381.4,288.0 381.4,289.1 383.4,289.5 387.1,288.8 391.2,288.4 392.5,289.1"/>
<polyline points="381.4,289.1 379.9,291.2 381.6,293.2 385.1,293.0 387.7,292.6 390.3,290.6 392.5,289.1"/>
<polyline points="391.7,287.1 394.5,284.5 393.8,281.3 393.6,278.2 392.1,277.3 386.4,277.3"/>
<polyline points="392.5,289.1 399.3,288.8 402.3,291.9 402.3,293.8 404.9,293.9"/>
<polyline points="387.7,292.6 389.9,294.5 392.1,296.2 396.4,297.1 400.1,296.4 403.0,297.1"/>
<polyline points="392.1,296.2 391.6,299.7 392.5,301.5 398.4,300.8 401.9,300.2"/>
<polyline points="375.3,293.8 378.8,293.9 385.3,294.7 386.4,296.5 385.8,298.4 387.1,299.3 388.2,301.9 389.0,304.0 387.1,304.5"/>
<polyline points="379.9,291.2 378.8,293.9"/>
<polyline points="387.1,304.5 388.8,302.3 392.5,301.5"/>
<polyline points="389.0,274.1 399.3,274.9"/>
<polyline points="395.1,270.8 400.8,271.5"/>
<polyline points="393.6,278.2 399.3,274.9 402.3,273.9 409.0,278.4"/>
<polyline points="393.8,282.5 406.6,283.0 409.0,281.5 410.6,279.3 409.0,278.4 407.1,275.0 402.3,273.9"/>
<polyline points="400.8,271.5 402.3,268.0"/>
<polyline points="401.6,266.0 404.7,264.1 408.4,261.5 405.6,258.6 405.6,254.8 403.8,252.4 402.9,250.2"/>
<polyline points="394.5,256.1 393.8,253.9 389.0,250.2 396.4,250.8 401.9,248.9"/>
<polyline points="371.2,268.7 373.2,265.0 372.7,260.4 376.0,258.6 378.8,255.8 383.4,251.1 388.0,250.2"/>
<polyline points="402.9,250.2 407.3,249.1"/>
<polyline points="409.0,281.5 413.1,281.2 415.6,283.6 420.5,285.4 424.2,286.2 423.8,289.5 420.8,290.8"/>
<polyline points="399.3,288.8 402.3,288.8 404.7,291.0 405.6,292.1 402.3,293.8"/>
<polyline points="398.4,300.8 398.8,302.3"/>
<polyline points="427.0,301.2 430.7,301.9 431.0,303.8 433.1,304.5 432.0,307.8 433.1,309.1"/>
<polyline points="433.1,309.1 428.4,309.3 424.2,309.9 420.5,309.9 417.9,311.0 416.8,311.6"/>
<polyline points="424.2,297.7 427.9,298.0 431.6,298.8 436.0,300.4 439.9,300.6"/>
<polyline points="430.7,301.9 433.4,301.5 436.2,301.9"/>
<polyline points="433.4,301.5 434.4,304.0 436.2,306.0"/>
<polyline points="433.1,304.5 436.2,306.0 439.0,305.4 440.7,306.9"/>
<polyline points="428.4,309.3 426.0,314.3 421.9,316.2"/>
<polyline points="416.4,317.5 421.9,316.2"/>
<polyline points="416.6,314.0 417.9,314.7 416.4,316.4"/>
<polyline points="421.9,316.2 422.9,318.4 427.9,320.4 432.9,324.0 436.2,324.2 438.4,325.3"/>
<polyline points="433.1,309.1 434.4,311.7 435.3,313.2 434.4,315.1 435.7,316.9 438.3,318.8 438.8,320.6 439.9,322.7"/>
<polyline points="436.2,324.2 438.4,322.3"/>
<polyline points="418.6,319.7 422.9,318.4"/>
<polyline points="414.9,323.4 415.8,319.7 416.0,317.5"/>
<polyline points="413.4,320.1 414.7,323.4"/>
<polyline points="429.4,347.7 431.6,345.8 436.2,346.0 439.0,344.7 446.4,342.9 448.4,347.3"/>
<polyline points="446.4,342.9 452.0,341.0 453.3,337.3 452.3,336.0 454.4,331.9"/>
<polyline points="445.7,333.2 452.3,336.0"/>
<polyline points="449.9,309.0 452.9,307.7 456.2,307.3 459.4,309.0 462.3,310.3 463.5,312.1"/>
<polyline points="463.5,312.1 462.2,315.8 462.9,319.7 464.4,320.1 466.4,323.6 467.3,327.7 465.5,329.0 464.2,331.4"/>
<polyline points="463.5,312.1 465.9,312.7 469.6,310.8 473.3,309.0 476.1,309.3 479.8,308.6 482.5,309.5 488.8,309.1"/>
<polyline points="462.9,322.9 468.6,323.4 472.9,322.7 474.2,320.1 478.5,319.0 479.8,316.0 482.0,314.5 482.5,312.3 486.2,309.7 488.8,309.1"/>
<polyline points="476.4,334.2 478.8,333.2 481.6,332.9 480.7,330.5 479.8,326.7 483.1,326.4 486.2,322.7 488.1,320.6 488.3,317.9 490.0,317.3 492.7,313.2 494.2,312.3"/>
<polyline points="494.2,312.3 495.5,316.9 496.1,318.8 496.4,320.6 498.7,321.6 500.5,322.3"/>
<polyline points="498.5,324.7 505.7,327.3 513.5,329.0 513.3,326.4 509.4,326.2 505.7,324.9 500.5,322.3 498.5,324.7"/>
<polyline points="514.6,327.5 520.5,328.4 520.7,326.4 524.2,324.7 527.9,323.8 530.4,325.8"/>
<polyline points="530.4,325.8 527.0,328.6 525.2,331.7 524.2,334.5 522.9,337.3 521.6,338.6"/>
<polyline points="514.6,337.7 514.6,333.2 513.1,331.7 514.0,329.3 516.5,329.9 517.8,331.4 521.1,331.7 520.5,333.6 519.8,335.6 521.1,338.2"/>
<polyline points="530.4,325.8 532.6,327.1 531.6,331.7 533.5,335.5 535.4,338.2 538.1,338.8 539.4,336.6 541.8,336.2 545.2,334.9 547.8,335.8 550.2,338.2"/>
<polyline points="535.4,338.2 535.4,340.3 532.6,341.6 531.3,344.2 532.9,347.5 533.5,349.7 533.9,354.0 532.8,358.1"/>
<polyline points="535.4,340.3 537.2,341.9 537.6,345.6 540.2,344.9 544.1,347.5 545.5,351.6"/>
<polyline points="540.7,351.8 544.6,351.6 545.5,351.6 549.3,351.2 549.3,354.0 546.5,357.7 543.5,358.8"/>
<polyline points="540.7,351.8 540.7,355.8"/>
<polyline points="539.4,336.6 542.8,340.1 543.9,343.8 547.4,347.5 549.3,351.2"/>
<polyline points="535.5,366.0 538.1,367.3 539.2,366.6"/>
<polyline points="512.7,287.1 516.8,289.5 518.7,292.8 522.4,294.7 528.9,298.8 535.4,299.1 542.8,300.6 548.3,299.7 553.9,298.4 556.7,296.9 560.4,295.1 565.9,292.8 568.7,291.0 571.9,291.0 568.3,289.3 566.3,285.8"/>
<polyline points="512.7,287.1 516.8,284.9 525.2,284.9 531.6,281.7 539.1,282.6 547.4,284.9 551.1,286.7 561.3,285.4 566.3,285.8"/>
<polyline points="566.3,285.8 568.3,286.3 570.6,285.1 572.4,280.8 576.1,279.3 581.7,279.5 586.3,285.4 591.9,287.6 596.5,288.8 600.2,288.4 596.5,294.7 592.8,295.1 593.4,298.4 592.1,299.5"/>
<polyline points="580.4,304.1 583.5,301.4 587.2,301.2 589.1,299.5 592.1,299.5"/>
<polyline points="583.7,308.0 585.4,307.1 587.8,306.5"/>
<polyline points="512.7,287.1 508.5,291.0 503.9,290.6 502.9,293.8 498.7,294.7 498.9,298.8 494.6,301.2 489.0,303.0 486.4,304.9 489.0,308.6 488.8,309.1"/>
<polyline points="494.2,312.3 497.4,312.3 498.7,317.9 496.4,320.6"/>
<polyline points="488.8,309.1 490.0,310.3 494.2,312.3"/>
<polyline points="436.6,288.2 436.2,285.6 438.1,284.5 440.3,284.3 443.6,282.6 447.3,282.6 452.0,283.9 455.7,283.4 460.3,284.3 464.0,283.0 463.1,281.7 461.2,280.8 463.1,278.6 468.6,278.0 471.4,276.7 477.0,275.8 480.7,275.8 485.3,278.0 491.8,278.0 490.9,280.8 498.3,283.9 503.9,283.6 508.5,286.2 511.8,287.1 512.7,287.1"/>
<polyline points="436.6,288.2 437.7,290.6 440.8,291.9"/>
<polyline points="447.9,300.6 453.6,301.5"/>
<polyline points="453.8,294.7 453.8,301.5 458.5,293.8 463.1,295.8 464.9,297.5 470.5,297.5 472.4,300.2 476.1,302.1 477.9,301.2 481.2,299.7 481.6,298.8 486.2,299.3 488.1,298.0 490.9,298.6 495.5,298.6 498.7,299.9"/>
<polyline points="453.8,301.5 457.5,299.3 461.2,300.2 464.0,301.5 465.9,304.9 469.6,307.7 473.3,309.0"/>
<polyline points="475.7,309.1 477.0,305.8 480.7,304.1 485.3,304.9 486.2,304.0 482.5,302.1 480.7,301.2"/>
<polyline points="611.3,382.9 611.3,394.9"/>
<polyline points="581.7,395.9 581.9,394.8"/>
<polyline points="566.9,370.3 564.1,370.7 562.2,375.3 559.4,375.7 557.2,376.2 553.9,374.9"/>
</g>
<polyline points="45.2,276.9 41.5,278.2 36.9,279.9 31.3,281.2 23.9,281.9 16.5,282.5" fill="none" stroke="#ddd" stroke-width="0.6"/>
</g>
<text x="29.6" y="227.7" class="cl">c</text>
<rect x="17.6" y="352.8" width="149.4" height="136.0" fill="#fff"/>
<path d="M83.9,427.2 L83.90,366.50 A60.7,60.7 0 0 1 136.78,397.40 Z" fill="#fdbf6f" stroke="#222" stroke-width="0.5"/>
<path d="M83.9,427.2 L136.78,397.40 A60.7,60.7 0 0 1 143.78,437.11 Z" fill="#33a02c" stroke="#222" stroke-width="0.5"/>
<path d="M83.9,427.2 L143.78,437.11 A60.7,60.7 0 1 1 55.40,373.61 Z" fill="#e31a1c" stroke="#222" stroke-width="0.5"/>
<path d="M83.9,427.2 L55.40,373.61 A60.7,60.7 0 0 1 83.90,366.50 Z" fill="#a6cee3" stroke="#222" stroke-width="0.5"/>
<text x="67.6" y="361.2" class="pl" text-anchor="middle">8%</text>
<text x="125.0" y="368.1" class="pl" text-anchor="middle">17%</text>
<text x="157.0" y="418.8" class="pl" text-anchor="middle">11%</text>
<text x="35.2" y="488.4" class="pl" text-anchor="middle">65%</text>
<rect x="16.9" y="496.0" width="135.70" height="13.3" fill="#a6cee3"/>
<rect x="152.6" y="496.0" width="135.40" height="13.3" fill="#e31a1c"/>
<rect x="288.0" y="496.0" width="135.00" height="13.3" fill="#33a02c"/>
<rect x="423.0" y="496.0" width="135.60" height="13.3" fill="#cab2d6"/>
<rect x="558.6" y="496.0" width="124.90" height="13.3" fill="#fdbf6f"/>
<rect x="16.9" y="496.0" width="666.6" height="13.3" fill="none" stroke="#555" stroke-width="0.8"/>
<text x="84" y="529" class="cbi" text-anchor="middle">&#945;</text>
<text x="210.0" y="527.9" class="cbt">r<tspan class="cbs" dy="6.6" dx="0.9">a</tspan></text>
<text x="344.2" y="527.9" class="cbt">r<tspan class="cbs" dy="6.6" dx="0.9">s</tspan></text>
<text x="483.5" y="528.3" class="cbe" text-anchor="middle">&#1013;</text>
<text x="617.1" y="528.5" class="cbt" style="font-size:16px" text-anchor="middle">G</text>
</svg>
</body></html>
